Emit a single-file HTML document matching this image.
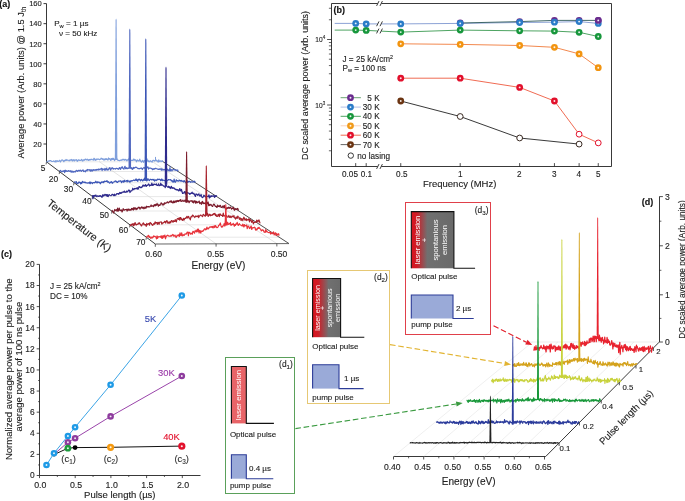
<!DOCTYPE html>
<html><head><meta charset="utf-8"><style>
html,body{margin:0;padding:0;background:#fff;}
svg{display:block;font-family:"Liberation Sans", sans-serif;will-change:transform;}
</style></head><body>
<svg width="685" height="501" viewBox="0 0 685 501">
<rect width="685" height="501" fill="#fff"/>
<g id="pa">
<text x="-0.80" y="6.90" font-size="9.0" text-anchor="start" fill="#111" font-weight="bold" stroke="#111" stroke-width="0.12">(a)</text>
<line x1="46.50" y1="3.60" x2="46.50" y2="162.00" stroke="#222" stroke-width="0.9"/>
<line x1="43.50" y1="144.00" x2="46.50" y2="144.00" stroke="#222" stroke-width="0.9"/>
<text x="41.80" y="146.80" font-size="7.6" text-anchor="end" fill="#222" stroke="#222" stroke-width="0.12">20</text>
<line x1="43.50" y1="123.94" x2="46.50" y2="123.94" stroke="#222" stroke-width="0.9"/>
<text x="41.80" y="126.74" font-size="7.6" text-anchor="end" fill="#222" stroke="#222" stroke-width="0.12">40</text>
<line x1="43.50" y1="103.89" x2="46.50" y2="103.89" stroke="#222" stroke-width="0.9"/>
<text x="41.80" y="106.69" font-size="7.6" text-anchor="end" fill="#222" stroke="#222" stroke-width="0.12">60</text>
<line x1="43.50" y1="83.83" x2="46.50" y2="83.83" stroke="#222" stroke-width="0.9"/>
<text x="41.80" y="86.63" font-size="7.6" text-anchor="end" fill="#222" stroke="#222" stroke-width="0.12">80</text>
<line x1="43.50" y1="63.77" x2="46.50" y2="63.77" stroke="#222" stroke-width="0.9"/>
<text x="41.80" y="66.57" font-size="7.6" text-anchor="end" fill="#222" stroke="#222" stroke-width="0.12">100</text>
<line x1="43.50" y1="43.71" x2="46.50" y2="43.71" stroke="#222" stroke-width="0.9"/>
<text x="41.80" y="46.51" font-size="7.6" text-anchor="end" fill="#222" stroke="#222" stroke-width="0.12">120</text>
<line x1="43.50" y1="23.66" x2="46.50" y2="23.66" stroke="#222" stroke-width="0.9"/>
<text x="41.80" y="26.46" font-size="7.6" text-anchor="end" fill="#222" stroke="#222" stroke-width="0.12">140</text>
<line x1="43.50" y1="3.60" x2="46.50" y2="3.60" stroke="#222" stroke-width="0.9"/>
<text x="41.80" y="6.40" font-size="7.6" text-anchor="end" fill="#222" stroke="#222" stroke-width="0.12">160</text>
<text x="0" y="0" font-size="9.4" text-anchor="middle" fill="#222" transform="translate(23.9 82.5) rotate(-90)" stroke="#222" stroke-width="0.12">Average power (Arb. units) @ 1.5 J<tspan font-size="6.5" dy="2">th</tspan></text>
<text x="54.20" y="26.00" font-size="8.1" text-anchor="start" fill="#222" stroke="#222" stroke-width="0.12">P<tspan font-size="5.8" dy="1.8">w</tspan><tspan dy="-1.8"> = 1 µs</tspan></text>
<text x="58.90" y="36.20" font-size="8.1" text-anchor="start" fill="#222" stroke="#222" stroke-width="0.12">ν = 50 kHz</text>
<line x1="46.50" y1="161.80" x2="163.23" y2="161.80" stroke="#d0d0d0" stroke-width="0.5"/>
<line x1="59.60" y1="171.50" x2="178.14" y2="171.50" stroke="#d0d0d0" stroke-width="0.5"/>
<line x1="74.00" y1="182.70" x2="195.36" y2="182.70" stroke="#d0d0d0" stroke-width="0.5"/>
<line x1="92.50" y1="196.60" x2="216.74" y2="196.60" stroke="#d0d0d0" stroke-width="0.5"/>
<line x1="112.00" y1="211.00" x2="238.88" y2="211.00" stroke="#d0d0d0" stroke-width="0.5"/>
<line x1="130.00" y1="224.80" x2="260.09" y2="224.80" stroke="#d0d0d0" stroke-width="0.5"/>
<line x1="146.40" y1="237.20" x2="279.16" y2="237.20" stroke="#d0d0d0" stroke-width="0.5"/>
<line x1="99.00" y1="161.44" x2="216.07" y2="243.82" stroke="#c8c8c8" stroke-width="0.5"/>
<line x1="151.50" y1="161.07" x2="276.85" y2="243.64" stroke="#c8c8c8" stroke-width="0.5"/>
<line x1="46.50" y1="161.80" x2="155.30" y2="244.00" stroke="#222" stroke-width="0.9"/>
<line x1="162.00" y1="161.00" x2="289.00" y2="243.60" stroke="#222" stroke-width="0.8"/>
<line x1="155.30" y1="244.00" x2="289.00" y2="243.60" stroke="#555" stroke-width="0.9"/>
<line x1="46.50" y1="161.80" x2="46.10" y2="164.40" stroke="#222" stroke-width="0.7"/>
<text x="43.00" y="170.50" font-size="8.4" text-anchor="middle" fill="#222" stroke="#222" stroke-width="0.12">5</text>
<line x1="59.60" y1="171.50" x2="59.20" y2="174.10" stroke="#222" stroke-width="0.7"/>
<text x="53.40" y="181.70" font-size="8.4" text-anchor="middle" fill="#222" stroke="#222" stroke-width="0.12">20</text>
<line x1="74.00" y1="182.70" x2="73.60" y2="185.30" stroke="#222" stroke-width="0.7"/>
<text x="68.40" y="191.70" font-size="8.4" text-anchor="middle" fill="#222" stroke="#222" stroke-width="0.12">30</text>
<line x1="92.50" y1="196.60" x2="92.10" y2="199.20" stroke="#222" stroke-width="0.7"/>
<text x="86.90" y="204.40" font-size="8.4" text-anchor="middle" fill="#222" stroke="#222" stroke-width="0.12">40</text>
<line x1="112.00" y1="211.00" x2="111.60" y2="213.60" stroke="#222" stroke-width="0.7"/>
<text x="104.30" y="218.00" font-size="8.4" text-anchor="middle" fill="#222" stroke="#222" stroke-width="0.12">50</text>
<line x1="130.00" y1="224.80" x2="129.60" y2="227.40" stroke="#222" stroke-width="0.7"/>
<text x="123.50" y="232.90" font-size="8.4" text-anchor="middle" fill="#222" stroke="#222" stroke-width="0.12">60</text>
<line x1="146.40" y1="237.20" x2="146.00" y2="239.80" stroke="#222" stroke-width="0.7"/>
<text x="140.80" y="244.70" font-size="8.4" text-anchor="middle" fill="#222" stroke="#222" stroke-width="0.12">70</text>
<line x1="155.30" y1="244.00" x2="155.30" y2="246.80" stroke="#222" stroke-width="0.7"/>
<text x="153.60" y="257.30" font-size="8.6" text-anchor="middle" fill="#222" stroke="#222" stroke-width="0.12">0.60</text>
<line x1="216.07" y1="243.82" x2="216.07" y2="246.62" stroke="#222" stroke-width="0.7"/>
<text x="215.60" y="257.30" font-size="8.6" text-anchor="middle" fill="#222" stroke="#222" stroke-width="0.12">0.55</text>
<line x1="276.85" y1="243.64" x2="276.85" y2="246.44" stroke="#222" stroke-width="0.7"/>
<text x="279.00" y="257.30" font-size="8.6" text-anchor="middle" fill="#222" stroke="#222" stroke-width="0.12">0.50</text>
<text x="218.50" y="269.20" font-size="10.1" text-anchor="middle" fill="#222" stroke="#222" stroke-width="0.12">Energy (eV)</text>
<text x="0" y="0" font-size="10.8" text-anchor="middle" fill="#222" transform="translate(77.0 228.5) rotate(38)" stroke="#222" stroke-width="0.12">Temperature (K)</text>
<polyline points="46.50,161.89 47.06,161.63 47.62,161.65 48.18,160.95 48.73,161.27 49.29,161.01 49.85,160.52 50.41,160.50 50.97,160.73 51.53,161.31 52.09,161.49 52.64,161.51 53.20,161.18 53.76,160.97 54.32,161.55 54.88,161.63 55.44,160.68 55.99,162.06 56.55,160.95 57.11,160.54 57.67,161.43 58.23,161.49 58.79,161.24 59.35,160.30 59.90,160.79 60.46,161.90 61.02,160.93 61.58,159.98 62.14,159.97 62.70,160.18 63.26,160.72 63.81,161.74 64.37,160.41 64.93,160.61 65.49,160.42 66.05,159.44 66.61,160.30 67.17,160.22 67.72,159.98 68.28,160.52 68.84,160.76 69.40,160.78 69.96,159.78 70.52,159.93 71.07,160.55 71.63,159.46 72.19,160.06 72.75,161.03 73.31,159.74 73.87,160.20 74.43,160.95 74.98,159.73 75.54,160.26 76.10,160.27 76.66,159.61 77.22,161.39 77.78,160.78 78.34,160.20 78.89,159.74 79.45,160.31 80.01,160.50 80.57,160.52 81.13,159.89 81.69,159.35 82.25,160.71 82.80,161.10 83.36,159.92 83.92,159.96 84.48,160.28 85.04,159.27 85.60,159.13 86.15,160.00 86.71,159.84 87.27,159.23 87.83,159.86 88.39,160.47 88.95,159.59 89.51,160.12 90.06,159.30 90.62,159.83 91.18,159.61 91.74,159.13 92.30,159.54 92.86,159.85 93.42,160.08 93.97,158.30 94.53,158.69 95.09,160.37 95.65,160.07 96.21,159.00 96.77,159.75 97.33,159.35 97.88,158.82 98.44,159.26 99.00,159.42 99.56,159.64 100.12,159.38 100.68,159.07 101.23,158.19 101.79,158.62 102.35,159.44 102.91,158.71 103.47,159.23 104.03,160.26 104.59,159.37 105.14,158.65 105.70,159.69 106.26,158.69 106.82,159.50 107.38,159.29 107.94,160.08 108.50,157.97 109.05,159.02 109.61,158.67 110.17,159.62 110.73,160.29 111.29,158.55 111.85,159.81 112.40,158.28 112.96,159.48 113.52,158.32 114.08,159.86 114.64,160.54 115.20,158.95 115.76,159.46 116.31,159.43 116.87,158.76 117.43,160.03 117.99,160.31 118.55,160.24 119.11,160.59 119.67,160.69 120.22,160.36 120.78,160.18 121.34,159.86 121.90,160.37 122.46,159.69 123.02,159.14 123.58,159.80 124.13,159.40 124.69,160.29 125.25,159.54 125.81,159.45 126.37,160.20 126.93,160.80 127.48,159.95 128.04,159.87 128.60,158.97 129.16,160.19 129.72,158.89 130.28,161.53 130.84,160.20 131.39,160.35 131.95,160.31 132.51,160.43 133.07,160.14 133.63,159.08 134.19,160.26 134.75,159.42 135.30,160.27 135.86,160.17 136.42,161.79 136.98,160.23 137.54,159.92 138.10,161.06 138.66,160.75 139.21,160.93 139.77,159.05 140.33,161.06 140.89,160.92 141.45,162.22 142.01,161.52 142.56,160.40 143.12,161.38 143.68,162.35 144.24,160.80 144.80,160.57 145.36,160.49 145.92,160.45 146.47,161.10 147.03,158.93 147.59,161.11 148.15,160.49 148.71,161.61 149.27,161.22 149.83,161.82 150.38,160.73 150.94,161.14 151.50,161.55 152.06,162.22 152.62,160.60 153.18,160.45 153.74,160.46 154.29,161.07 154.85,160.59 155.41,160.46 155.97,160.74 156.53,160.17 157.09,161.21 157.64,160.99 158.20,162.11 158.76,159.81 159.32,161.65 159.88,160.97 160.44,160.79 161.00,161.73 161.55,161.25 162.11,160.80 162.67,161.31 163.23,161.46" stroke="#7f9fdc" stroke-width="1.2" fill="none" stroke-linejoin="round"/>
<polygon points="114.82,159.93 115.57,20.10 116.10,18.60 116.62,20.10 117.38,159.93" fill="#7f9fdc"/>
<line x1="155.50" y1="160.92" x2="155.50" y2="156.92" stroke="#7f9fdc" stroke-width="1.0"/>
<polyline points="59.60,171.31 60.16,170.38 60.72,170.47 61.28,171.67 61.84,171.51 62.40,171.67 62.96,170.89 63.51,171.32 64.07,170.74 64.63,172.55 65.19,170.15 65.75,171.30 66.31,170.75 66.87,171.31 67.43,171.46 67.99,170.86 68.55,170.60 69.11,171.30 69.67,171.25 70.22,170.65 70.78,171.73 71.34,172.16 71.90,170.81 72.46,171.54 73.02,172.40 73.58,171.60 74.14,171.34 74.70,171.83 75.26,172.02 75.82,170.93 76.38,170.31 76.93,171.08 77.49,171.42 78.05,170.61 78.61,170.35 79.17,171.04 79.73,170.43 80.29,170.05 80.85,170.91 81.41,171.30 81.97,170.47 82.53,170.51 83.09,169.89 83.64,171.53 84.20,171.07 84.76,171.16 85.32,171.76 85.88,170.43 86.44,170.12 87.00,170.97 87.56,169.46 88.12,169.82 88.68,169.92 89.24,170.05 89.80,169.63 90.35,171.20 90.91,169.80 91.47,169.77 92.03,171.40 92.59,169.88 93.15,170.26 93.71,169.51 94.27,170.32 94.83,169.99 95.39,169.70 95.95,170.52 96.51,169.45 97.06,169.90 97.62,169.45 98.18,170.12 98.74,168.95 99.30,169.25 99.86,169.76 100.42,169.15 100.98,168.67 101.54,168.26 102.10,170.58 102.66,168.82 103.22,169.07 103.77,169.42 104.33,170.02 104.89,168.39 105.45,170.12 106.01,168.80 106.57,168.24 107.13,170.24 107.69,169.29 108.25,169.95 108.81,168.83 109.37,167.90 109.93,167.51 110.48,170.13 111.04,169.25 111.60,168.32 112.16,167.67 112.72,168.44 113.28,169.22 113.84,168.46 114.40,168.64 114.96,168.74 115.52,169.08 116.08,168.26 116.64,168.28 117.19,168.53 117.75,168.59 118.31,169.31 118.87,168.72 119.43,167.51 119.99,168.46 120.55,169.31 121.11,167.34 121.67,167.88 122.23,166.75 122.79,168.16 123.35,168.51 123.90,169.18 124.46,167.22 125.02,166.33 125.58,168.69 126.14,168.55 126.70,167.66 127.26,168.65 127.82,168.24 128.38,168.29 128.94,167.90 129.50,167.26 130.06,168.00 130.61,167.37 131.17,168.30 131.73,167.77 132.29,169.50 132.85,169.02 133.41,167.44 133.97,168.41 134.53,167.60 135.09,167.63 135.65,167.09 136.21,167.45 136.77,167.31 137.32,168.11 137.88,168.53 138.44,168.57 139.00,168.41 139.56,168.87 140.12,168.48 140.68,168.18 141.24,167.95 141.80,168.38 142.36,169.51 142.92,168.24 143.48,168.05 144.03,167.47 144.59,167.85 145.15,168.73 145.71,168.81 146.27,166.92 146.83,167.83 147.39,167.10 147.95,166.92 148.51,169.02 149.07,168.20 149.63,168.18 150.19,168.14 150.74,168.19 151.30,168.46 151.86,168.51 152.42,169.72 152.98,168.82 153.54,169.26 154.10,168.69 154.66,169.14 155.22,168.42 155.78,168.32 156.34,168.71 156.90,168.74 157.45,168.94 158.01,169.36 158.57,169.20 159.13,169.47 159.69,168.89 160.25,169.19 160.81,168.83 161.37,170.21 161.93,168.70 162.49,169.89 163.05,169.91 163.61,169.58 164.16,169.87 164.72,169.32 165.28,169.96 165.84,170.35 166.40,170.23 166.96,168.76 167.52,169.69 168.08,170.57 168.64,169.79 169.20,170.92 169.76,168.62 170.32,170.98 170.87,169.61 171.43,169.60 171.99,171.04 172.55,169.85 173.11,169.40 173.67,169.80 174.23,169.98 174.79,169.53 175.35,170.12 175.91,170.03 176.47,170.39 177.03,169.89 177.58,171.02 178.14,169.84" stroke="#5068c0" stroke-width="1.2" fill="none" stroke-linejoin="round"/>
<polygon points="128.53,168.50 129.28,29.90 129.80,28.40 130.33,29.90 131.08,168.50" fill="#5068c0"/>
<line x1="170.00" y1="169.89" x2="170.00" y2="165.89" stroke="#5068c0" stroke-width="1.0"/>
<polyline points="74.00,182.69 74.56,181.95 75.12,182.16 75.68,182.17 76.24,181.55 76.80,183.52 77.36,183.12 77.91,183.60 78.47,182.75 79.03,181.97 79.59,182.68 80.15,182.32 80.71,184.00 81.27,182.56 81.83,183.29 82.39,181.41 82.95,182.03 83.51,181.98 84.07,182.69 84.63,182.21 85.19,182.18 85.74,182.88 86.30,182.98 86.86,182.71 87.42,183.04 87.98,183.03 88.54,182.81 89.10,183.11 89.66,182.06 90.22,183.71 90.78,182.01 91.34,183.02 91.90,182.95 92.46,183.51 93.02,182.66 93.57,182.72 94.13,182.41 94.69,182.90 95.25,182.46 95.81,181.24 96.37,182.21 96.93,182.89 97.49,181.81 98.05,182.56 98.61,182.04 99.17,182.01 99.73,182.70 100.29,183.76 100.85,182.64 101.40,182.00 101.96,182.63 102.52,182.04 103.08,181.65 103.64,182.70 104.20,181.44 104.76,181.14 105.32,181.50 105.88,181.42 106.44,181.45 107.00,180.62 107.56,182.05 108.12,182.15 108.68,181.71 109.23,182.74 109.79,183.17 110.35,182.67 110.91,181.77 111.47,181.67 112.03,183.05 112.59,183.26 113.15,182.14 113.71,182.02 114.27,181.89 114.83,181.35 115.39,180.93 115.95,181.60 116.51,181.30 117.06,182.46 117.62,182.48 118.18,181.46 118.74,181.12 119.30,181.04 119.86,181.10 120.42,180.92 120.98,180.87 121.54,182.62 122.10,181.87 122.66,181.00 123.22,180.86 123.78,182.30 124.34,180.38 124.89,181.46 125.45,181.28 126.01,180.88 126.57,180.51 127.13,181.99 127.69,180.26 128.25,180.85 128.81,181.41 129.37,181.02 129.93,182.31 130.49,181.19 131.05,180.57 131.61,181.15 132.17,180.85 132.72,180.68 133.28,180.50 133.84,179.78 134.40,180.47 134.96,180.60 135.52,180.00 136.08,178.89 136.64,180.54 137.20,179.91 137.76,181.33 138.32,179.25 138.88,179.70 139.44,179.19 140.00,180.14 140.55,180.79 141.11,179.41 141.67,179.48 142.23,180.58 142.79,180.98 143.35,179.61 143.91,180.02 144.47,178.05 145.03,180.28 145.59,180.20 146.15,179.89 146.71,180.96 147.27,180.40 147.83,178.61 148.38,179.84 148.94,180.17 149.50,180.62 150.06,179.31 150.62,179.25 151.18,179.53 151.74,179.98 152.30,179.49 152.86,179.43 153.42,180.18 153.98,179.27 154.54,181.19 155.10,180.61 155.66,179.93 156.21,179.80 156.77,180.55 157.33,179.52 157.89,179.02 158.45,179.46 159.01,179.64 159.57,179.23 160.13,179.55 160.69,180.65 161.25,180.01 161.81,178.99 162.37,180.72 162.93,179.90 163.49,180.25 164.04,180.63 164.60,180.74 165.16,179.99 165.72,179.87 166.28,179.91 166.84,181.17 167.40,180.39 167.96,179.98 168.52,179.60 169.08,179.83 169.64,179.75 170.20,179.61 170.76,179.84 171.32,181.02 171.87,180.45 172.43,181.03 172.99,182.24 173.55,181.79 174.11,179.19 174.67,181.48 175.23,182.31 175.79,181.19 176.35,179.76 176.91,180.89 177.47,180.62 178.03,181.13 178.59,181.05 179.15,180.14 179.70,180.51 180.26,181.17 180.82,180.53 181.38,180.44 181.94,181.39 182.50,181.09 183.06,181.14 183.62,181.82 184.18,180.59 184.74,181.55 185.30,181.90 185.86,182.68 186.42,182.43 186.98,180.51 187.53,182.41 188.09,181.35 188.65,181.94 189.21,181.36 189.77,181.33 190.33,182.33 190.89,182.02 191.45,181.78 192.01,181.80 192.57,181.93 193.13,182.16 193.69,181.53 194.25,181.08 194.81,181.65 195.36,182.57" stroke="#3c56b6" stroke-width="1.2" fill="none" stroke-linejoin="round"/>
<polygon points="144.53,180.70 145.28,39.80 145.80,38.30 146.33,39.80 147.08,180.70" fill="#3c56b6"/>
<polyline points="92.50,195.07 93.06,198.74 93.62,195.70 94.18,196.35 94.74,195.40 95.30,196.08 95.86,194.98 96.42,196.31 96.98,196.70 97.54,195.85 98.10,195.94 98.66,196.51 99.22,196.40 99.78,195.65 100.33,195.63 100.89,196.50 101.45,196.37 102.01,197.42 102.57,194.76 103.13,196.15 103.69,194.94 104.25,195.59 104.81,194.40 105.37,194.66 105.93,195.52 106.49,194.59 107.05,196.36 107.61,194.65 108.17,196.64 108.73,195.21 109.29,194.60 109.85,195.16 110.41,195.53 110.97,195.79 111.53,195.36 112.09,194.23 112.65,194.27 113.21,195.04 113.77,195.69 114.33,194.15 114.88,195.64 115.44,194.85 116.00,194.90 116.56,193.68 117.12,193.94 117.68,193.65 118.24,193.67 118.80,194.26 119.36,193.22 119.92,192.43 120.48,193.38 121.04,192.73 121.60,193.16 122.16,192.14 122.72,192.26 123.28,191.95 123.84,192.19 124.40,191.06 124.96,192.39 125.52,192.21 126.08,192.23 126.64,191.15 127.20,191.90 127.76,191.74 128.32,190.53 128.88,190.02 129.44,190.27 129.99,192.53 130.55,191.04 131.11,190.94 131.67,190.85 132.23,190.06 132.79,188.20 133.35,189.60 133.91,189.73 134.47,188.46 135.03,188.74 135.59,188.51 136.15,188.93 136.71,188.22 137.27,187.71 137.83,189.28 138.39,188.88 138.95,186.67 139.51,186.68 140.07,187.52 140.63,187.73 141.19,186.94 141.75,187.53 142.31,186.73 142.87,185.08 143.43,186.07 143.99,185.15 144.54,186.06 145.10,185.48 145.66,184.59 146.22,186.51 146.78,185.66 147.34,185.41 147.90,184.98 148.46,183.93 149.02,184.50 149.58,186.06 150.14,185.07 150.70,185.47 151.26,185.44 151.82,183.19 152.38,185.46 152.94,184.46 153.50,185.15 154.06,183.96 154.62,184.33 155.18,184.51 155.74,184.67 156.30,183.78 156.86,185.37 157.42,185.25 157.98,185.59 158.54,183.80 159.10,185.09 159.65,185.71 160.21,185.33 160.77,183.22 161.33,185.27 161.89,184.65 162.45,185.05 163.01,185.52 163.57,186.15 164.13,186.01 164.69,186.16 165.25,187.69 165.81,184.23 166.37,185.63 166.93,186.39 167.49,186.79 168.05,187.39 168.61,186.25 169.17,187.28 169.73,186.95 170.29,188.53 170.85,187.38 171.41,186.35 171.97,188.25 172.53,187.62 173.09,188.39 173.65,187.77 174.20,187.99 174.76,188.94 175.32,189.60 175.88,189.16 176.44,189.53 177.00,190.22 177.56,189.61 178.12,189.82 178.68,191.00 179.24,190.60 179.80,188.51 180.36,190.28 180.92,191.00 181.48,189.37 182.04,191.78 182.60,193.47 183.16,193.21 183.72,193.10 184.28,191.93 184.84,191.56 185.40,194.08 185.96,191.77 186.52,193.69 187.08,192.72 187.64,192.72 188.20,192.88 188.75,193.34 189.31,193.36 189.87,194.48 190.43,193.54 190.99,193.14 191.55,193.30 192.11,192.16 192.67,193.42 193.23,193.80 193.79,193.20 194.35,194.37 194.91,195.62 195.47,196.43 196.03,193.89 196.59,194.51 197.15,194.38 197.71,195.35 198.27,194.92 198.83,193.85 199.39,195.08 199.95,196.24 200.51,195.79 201.07,194.49 201.63,196.41 202.19,197.59 202.75,197.43 203.31,196.76 203.86,195.21 204.42,195.79 204.98,196.47 205.54,196.91 206.10,196.07 206.66,196.14 207.22,196.48 207.78,196.28 208.34,196.70 208.90,194.81 209.46,197.96 210.02,196.12 210.58,197.00 211.14,195.74 211.70,196.47 212.26,196.04 212.82,195.93 213.38,196.20 213.94,195.62 214.50,197.43 215.06,195.69 215.62,196.58 216.18,196.14 216.74,195.27" stroke="#2e2a8c" stroke-width="1.2" fill="none" stroke-linejoin="round"/>
<polygon points="164.72,184.73 165.47,68.00 166.00,66.50 166.53,68.00 167.28,184.73" fill="#2e2a8c"/>
<polyline points="112.00,210.06 112.56,211.47 113.12,211.95 113.68,213.08 114.24,210.87 114.79,209.49 115.35,210.50 115.91,210.07 116.47,209.61 117.03,211.20 117.59,208.17 118.15,211.14 118.71,210.05 119.27,208.01 119.82,210.40 120.38,210.18 120.94,210.68 121.50,209.92 122.06,211.98 122.62,210.68 123.18,208.65 123.74,209.87 124.30,210.21 124.86,209.65 125.41,209.57 125.97,209.75 126.53,209.34 127.09,211.19 127.65,209.22 128.21,210.25 128.77,208.95 129.33,209.58 129.89,210.36 130.44,209.51 131.00,210.24 131.56,208.46 132.12,209.28 132.68,208.47 133.24,210.07 133.80,207.68 134.36,209.24 134.92,207.75 135.47,208.11 136.03,209.70 136.59,208.41 137.15,209.06 137.71,208.17 138.27,207.22 138.83,207.76 139.39,207.35 139.95,209.17 140.51,207.91 141.06,207.69 141.62,206.97 142.18,208.33 142.74,207.22 143.30,207.24 143.86,208.80 144.42,208.28 144.98,206.92 145.54,208.19 146.09,208.13 146.65,206.22 147.21,206.62 147.77,206.96 148.33,206.56 148.89,206.88 149.45,206.87 150.01,206.69 150.57,205.86 151.12,204.95 151.68,206.35 152.24,205.89 152.80,205.90 153.36,206.67 153.92,205.26 154.48,204.62 155.04,205.95 155.60,204.40 156.16,205.48 156.71,203.89 157.27,203.71 157.83,204.95 158.39,206.21 158.95,204.68 159.51,205.45 160.07,205.26 160.63,204.24 161.19,202.75 161.74,203.87 162.30,203.86 162.86,205.13 163.42,203.96 163.98,204.52 164.54,202.78 165.10,203.56 165.66,203.04 166.22,202.91 166.77,202.95 167.33,201.88 167.89,202.18 168.45,202.76 169.01,202.27 169.57,201.83 170.13,201.05 170.69,202.01 171.25,200.81 171.81,202.46 172.36,202.08 172.92,203.06 173.48,201.03 174.04,202.53 174.60,202.47 175.16,200.81 175.72,201.92 176.28,202.05 176.84,200.54 177.39,201.46 177.95,200.47 178.51,201.56 179.07,200.56 179.63,200.22 180.19,201.04 180.75,199.55 181.31,201.39 181.87,201.22 182.42,200.96 182.98,200.16 183.54,201.25 184.10,201.37 184.66,200.79 185.22,199.94 185.78,201.37 186.34,202.11 186.90,201.15 187.46,200.53 188.01,201.55 188.57,201.01 189.13,202.74 189.69,201.17 190.25,201.14 190.81,200.74 191.37,201.05 191.93,200.71 192.49,202.26 193.04,200.92 193.60,202.94 194.16,202.11 194.72,200.73 195.28,201.02 195.84,203.39 196.40,201.39 196.96,202.34 197.52,202.72 198.07,201.97 198.63,202.12 199.19,201.14 199.75,203.64 200.31,202.88 200.87,202.73 201.43,204.28 201.99,201.82 202.55,201.43 203.11,203.56 203.66,202.81 204.22,203.47 204.78,203.13 205.34,204.04 205.90,202.88 206.46,204.69 207.02,202.66 207.58,203.63 208.14,201.99 208.69,205.57 209.25,204.37 209.81,205.50 210.37,204.65 210.93,204.28 211.49,205.55 212.05,206.11 212.61,206.49 213.17,204.95 213.72,204.17 214.28,204.38 214.84,205.47 215.40,206.44 215.96,206.05 216.52,207.14 217.08,207.32 217.64,205.19 218.20,206.45 218.76,206.06 219.31,206.68 219.87,205.43 220.43,205.45 220.99,207.44 221.55,207.20 222.11,207.57 222.67,205.99 223.23,206.16 223.79,207.57 224.34,205.47 224.90,207.50 225.46,208.66 226.02,209.45 226.58,207.94 227.14,207.64 227.70,208.51 228.26,207.79 228.82,207.18 229.37,208.33 229.93,207.65 230.49,207.04 231.05,208.11 231.61,209.11 232.17,208.33 232.73,208.32 233.29,207.04 233.85,209.30 234.41,210.32 234.96,208.82 235.52,208.86 236.08,209.56 236.64,208.79 237.20,209.07 237.76,208.37 238.32,210.17 238.88,210.12" stroke="#7c1c2c" stroke-width="1.2" fill="none" stroke-linejoin="round"/>
<polygon points="185.32,202.61 186.07,152.60 186.60,151.10 187.12,152.60 187.88,202.61" fill="#7c1c2c"/>
<polyline points="130.00,226.01 130.56,225.54 131.12,224.26 131.68,225.13 132.23,224.12 132.79,223.84 133.35,225.97 133.91,223.62 134.47,225.14 135.03,222.57 135.58,223.86 136.14,225.05 136.70,224.33 137.26,224.30 137.82,224.18 138.38,223.15 138.93,223.95 139.49,222.86 140.05,223.82 140.61,224.57 141.17,225.83 141.73,225.84 142.28,224.14 142.84,223.66 143.40,222.92 143.96,224.85 144.52,224.17 145.08,224.99 145.63,224.59 146.19,226.32 146.75,223.43 147.31,224.78 147.87,224.13 148.43,223.61 148.98,223.67 149.54,225.21 150.10,222.48 150.66,223.17 151.22,223.37 151.78,224.43 152.33,225.29 152.89,225.27 153.45,223.87 154.01,223.47 154.57,224.25 155.13,221.79 155.68,223.19 156.24,222.48 156.80,222.51 157.36,224.33 157.92,222.31 158.48,222.77 159.03,224.34 159.59,222.39 160.15,221.99 160.71,222.02 161.27,221.88 161.83,224.15 162.38,222.98 162.94,223.19 163.50,222.54 164.06,222.42 164.62,221.37 165.18,221.65 165.73,223.07 166.29,221.34 166.85,220.57 167.41,221.74 167.97,223.37 168.53,222.46 169.08,221.93 169.64,223.21 170.20,221.71 170.76,222.69 171.32,220.63 171.88,220.63 172.43,221.26 172.99,222.28 173.55,220.71 174.11,221.48 174.67,221.42 175.23,219.61 175.78,221.28 176.34,221.76 176.90,219.59 177.46,218.54 178.02,218.59 178.58,219.26 179.13,217.90 179.69,220.11 180.25,217.59 180.81,217.55 181.37,219.75 181.93,218.92 182.48,220.41 183.04,220.05 183.60,218.42 184.16,219.94 184.72,218.51 185.28,218.16 185.83,218.35 186.39,217.43 186.95,216.39 187.51,217.94 188.07,217.04 188.63,216.46 189.18,218.20 189.74,218.28 190.30,219.84 190.86,217.01 191.42,216.30 191.98,216.78 192.53,215.09 193.09,215.52 193.65,216.09 194.21,216.80 194.77,217.49 195.33,216.45 195.88,215.98 196.44,216.42 197.00,216.55 197.56,216.53 198.12,215.41 198.68,217.61 199.23,216.21 199.79,215.75 200.35,215.08 200.91,214.99 201.47,215.80 202.03,216.07 202.58,216.56 203.14,214.27 203.70,214.76 204.26,215.06 204.82,215.89 205.38,216.21 205.93,213.98 206.49,215.06 207.05,214.55 207.61,213.25 208.17,216.38 208.73,215.63 209.29,214.52 209.84,214.25 210.40,215.81 210.96,214.88 211.52,215.36 212.08,215.33 212.64,214.41 213.19,214.58 213.75,213.65 214.31,214.20 214.87,213.36 215.43,215.58 215.99,214.43 216.54,216.20 217.10,216.45 217.66,216.23 218.22,214.26 218.78,214.78 219.34,216.57 219.89,213.81 220.45,214.18 221.01,215.33 221.57,215.44 222.13,215.28 222.69,216.49 223.24,213.16 223.80,215.90 224.36,215.71 224.92,215.91 225.48,216.31 226.04,216.62 226.59,215.51 227.15,217.09 227.71,217.00 228.27,216.86 228.83,215.41 229.39,217.22 229.94,217.32 230.50,216.16 231.06,217.65 231.62,216.98 232.18,215.92 232.74,216.48 233.29,216.95 233.85,215.64 234.41,217.60 234.97,217.89 235.53,219.09 236.09,217.50 236.64,217.05 237.20,218.40 237.76,216.09 238.32,217.03 238.88,217.23 239.44,219.38 239.99,218.07 240.55,218.12 241.11,220.53 241.67,218.73 242.23,219.05 242.79,220.59 243.34,218.59 243.90,217.22 244.46,218.58 245.02,220.22 245.58,219.77 246.14,218.57 246.69,220.55 247.25,219.53 247.81,219.95 248.37,219.93 248.93,218.63 249.49,221.77 250.04,219.31 250.60,220.28 251.16,220.73 251.72,222.34 252.28,220.56 252.84,221.35 253.39,223.87 253.95,222.48 254.51,222.41 255.07,222.33 255.63,222.05 256.19,222.36 256.74,220.17 257.30,220.73 257.86,221.92 258.42,220.60 258.98,219.98 259.54,221.63 260.09,223.44" stroke="#a8222c" stroke-width="1.2" fill="none" stroke-linejoin="round"/>
<polygon points="205.03,215.56 205.78,166.60 206.30,165.10 206.83,166.60 207.58,215.56" fill="#a8222c"/>
<polyline points="146.40,237.72 146.96,236.49 147.52,236.07 148.08,236.07 148.64,235.28 149.20,237.48 149.76,236.54 150.32,237.44 150.88,238.49 151.44,237.76 152.00,236.91 152.56,237.96 153.12,237.22 153.68,235.90 154.24,236.44 154.80,236.42 155.36,236.64 155.92,237.15 156.48,238.82 157.04,235.95 157.60,238.43 158.16,236.69 158.72,237.00 159.28,236.74 159.84,236.60 160.40,237.17 160.96,235.91 161.52,238.08 162.08,235.98 162.64,238.44 163.21,235.53 163.77,237.20 164.33,236.29 164.89,235.13 165.45,238.77 166.01,236.89 166.57,235.96 167.13,235.60 167.69,235.11 168.25,235.82 168.81,235.88 169.37,236.24 169.93,236.04 170.49,236.19 171.05,235.22 171.61,236.01 172.17,235.45 172.73,234.45 173.29,234.84 173.85,236.30 174.41,236.00 174.97,235.10 175.53,236.42 176.09,237.54 176.65,236.66 177.21,235.04 177.77,235.72 178.33,235.79 178.89,234.61 179.45,236.33 180.01,232.93 180.57,235.09 181.13,235.35 181.69,232.90 182.25,235.94 182.81,235.26 183.37,234.75 183.93,235.52 184.49,234.80 185.05,233.78 185.61,234.09 186.17,234.19 186.73,233.05 187.29,232.04 187.85,232.24 188.41,235.78 188.97,232.19 189.53,232.67 190.09,232.91 190.65,234.17 191.21,233.51 191.77,233.13 192.33,234.18 192.89,231.42 193.45,231.62 194.01,232.38 194.57,233.17 195.13,230.73 195.69,231.29 196.25,230.71 196.82,232.04 197.38,229.08 197.94,231.45 198.50,229.20 199.06,233.00 199.62,230.53 200.18,230.60 200.74,233.04 201.30,231.00 201.86,231.42 202.42,231.43 202.98,230.61 203.54,230.86 204.10,229.20 204.66,228.90 205.22,228.93 205.78,229.86 206.34,229.35 206.90,227.02 207.46,228.88 208.02,228.39 208.58,228.79 209.14,227.52 209.70,227.00 210.26,226.93 210.82,227.14 211.38,226.70 211.94,227.47 212.50,226.48 213.06,227.94 213.62,226.70 214.18,225.79 214.74,227.53 215.30,225.60 215.86,225.92 216.42,227.33 216.98,227.68 217.54,227.50 218.10,226.77 218.66,225.29 219.22,225.24 219.78,224.15 220.34,223.00 220.90,225.65 221.46,227.11 222.02,226.47 222.58,226.92 223.14,225.50 223.70,225.27 224.26,223.38 224.82,226.10 225.38,224.78 225.94,224.72 226.50,224.55 227.06,224.94 227.62,222.22 228.18,224.48 228.74,224.23 229.30,223.54 229.87,224.00 230.43,222.44 230.99,225.41 231.55,224.40 232.11,224.72 232.67,224.30 233.23,223.34 233.79,224.86 234.35,226.25 234.91,224.25 235.47,225.41 236.03,223.79 236.59,224.23 237.15,222.41 237.71,224.03 238.27,225.46 238.83,224.34 239.39,223.72 239.95,224.78 240.51,224.98 241.07,225.31 241.63,225.55 242.19,226.16 242.75,224.13 243.31,225.05 243.87,227.00 244.43,224.61 244.99,225.78 245.55,225.70 246.11,225.90 246.67,225.00 247.23,228.55 247.79,226.48 248.35,226.05 248.91,226.88 249.47,228.54 250.03,228.31 250.59,226.98 251.15,225.92 251.71,229.44 252.27,228.25 252.83,227.50 253.39,227.73 253.95,227.59 254.51,227.13 255.07,227.68 255.63,230.08 256.19,229.08 256.75,230.04 257.31,229.12 257.87,227.76 258.43,228.41 258.99,227.28 259.55,228.38 260.11,228.83 260.67,229.06 261.23,230.92 261.79,230.54 262.35,229.97 262.91,229.97 263.48,230.28 264.04,231.98 264.60,232.26 265.16,232.49 265.72,229.66 266.28,231.78 266.84,230.98 267.40,232.02 267.96,232.28 268.52,232.49 269.08,232.79 269.64,232.47 270.20,231.88 270.76,234.10 271.32,232.91 271.88,233.38 272.44,233.65 273.00,232.69 273.56,231.88 274.12,234.94 274.68,233.56 275.24,232.76 275.80,233.10 276.36,235.68 276.92,233.67 277.48,234.68 278.04,234.82 278.60,233.73 279.16,235.61" stroke="#e8323a" stroke-width="1.2" fill="none" stroke-linejoin="round"/>
<polygon points="224.53,225.22 225.28,205.10 225.80,203.60 226.33,205.10 227.08,225.22" fill="#e8323a"/>
</g>
<g id="pb">
<line x1="331.50" y1="3.50" x2="331.50" y2="166.50" stroke="#222" stroke-width="0.9"/>
<line x1="331.50" y1="166.50" x2="611.50" y2="166.50" stroke="#222" stroke-width="0.9"/>
<line x1="611.50" y1="3.50" x2="611.50" y2="166.50" stroke="#222" stroke-width="0.9"/>
<line x1="331.50" y1="3.50" x2="611.50" y2="3.50" stroke="#222" stroke-width="0.9"/>
<text x="333.40" y="12.80" font-size="9.0" text-anchor="start" fill="#111" font-weight="bold" stroke="#111" stroke-width="0.12">(b)</text>
<line x1="328.90" y1="150.78" x2="331.50" y2="150.78" stroke="#222" stroke-width="0.7"/>
<line x1="328.90" y1="139.25" x2="331.50" y2="139.25" stroke="#222" stroke-width="0.7"/>
<line x1="328.90" y1="131.07" x2="331.50" y2="131.07" stroke="#222" stroke-width="0.7"/>
<line x1="328.90" y1="124.72" x2="331.50" y2="124.72" stroke="#222" stroke-width="0.7"/>
<line x1="328.90" y1="119.53" x2="331.50" y2="119.53" stroke="#222" stroke-width="0.7"/>
<line x1="328.90" y1="115.15" x2="331.50" y2="115.15" stroke="#222" stroke-width="0.7"/>
<line x1="328.90" y1="111.35" x2="331.50" y2="111.35" stroke="#222" stroke-width="0.7"/>
<line x1="328.90" y1="108.00" x2="331.50" y2="108.00" stroke="#222" stroke-width="0.7"/>
<line x1="327.10" y1="105.00" x2="331.50" y2="105.00" stroke="#222" stroke-width="0.8"/>
<line x1="328.90" y1="85.28" x2="331.50" y2="85.28" stroke="#222" stroke-width="0.7"/>
<line x1="328.90" y1="73.75" x2="331.50" y2="73.75" stroke="#222" stroke-width="0.7"/>
<line x1="328.90" y1="65.57" x2="331.50" y2="65.57" stroke="#222" stroke-width="0.7"/>
<line x1="328.90" y1="59.22" x2="331.50" y2="59.22" stroke="#222" stroke-width="0.7"/>
<line x1="328.90" y1="54.03" x2="331.50" y2="54.03" stroke="#222" stroke-width="0.7"/>
<line x1="328.90" y1="49.65" x2="331.50" y2="49.65" stroke="#222" stroke-width="0.7"/>
<line x1="328.90" y1="45.85" x2="331.50" y2="45.85" stroke="#222" stroke-width="0.7"/>
<line x1="328.90" y1="42.50" x2="331.50" y2="42.50" stroke="#222" stroke-width="0.7"/>
<line x1="327.10" y1="39.50" x2="331.50" y2="39.50" stroke="#222" stroke-width="0.8"/>
<line x1="328.90" y1="19.78" x2="331.50" y2="19.78" stroke="#222" stroke-width="0.7"/>
<line x1="328.90" y1="8.25" x2="331.50" y2="8.25" stroke="#222" stroke-width="0.7"/>
<text x="325.20" y="42.00" font-size="6.6" text-anchor="end" fill="#222" stroke="#222" stroke-width="0.12">10<tspan font-size="4.5" dy="-2.6">4</tspan></text>
<text x="325.20" y="107.50" font-size="6.6" text-anchor="end" fill="#222" stroke="#222" stroke-width="0.12">10<tspan font-size="4.5" dy="-2.6">3</tspan></text>
<text x="0" y="0" font-size="8.95" text-anchor="middle" fill="#222" transform="translate(308.0 85.5) rotate(-90)" stroke="#222" stroke-width="0.12">DC scaled average power (Arb. units)</text>
<line x1="355.70" y1="166.50" x2="355.70" y2="163.10" stroke="#222" stroke-width="0.8"/>
<text x="350.00" y="177.20" font-size="8.2" text-anchor="middle" fill="#222" stroke="#222" stroke-width="0.12">0.05</text>
<line x1="366.20" y1="166.50" x2="366.20" y2="163.10" stroke="#222" stroke-width="0.8"/>
<text x="366.40" y="177.20" font-size="8.2" text-anchor="middle" fill="#222" stroke="#222" stroke-width="0.12">0.1</text>
<line x1="400.75" y1="166.50" x2="400.75" y2="163.10" stroke="#222" stroke-width="0.8"/>
<text x="401.80" y="177.20" font-size="8.2" text-anchor="middle" fill="#222" stroke="#222" stroke-width="0.12">0.5</text>
<line x1="460.20" y1="166.50" x2="460.20" y2="163.10" stroke="#222" stroke-width="0.8"/>
<text x="460.20" y="177.20" font-size="8.2" text-anchor="middle" fill="#222" stroke="#222" stroke-width="0.12">1</text>
<line x1="519.65" y1="166.50" x2="519.65" y2="163.10" stroke="#222" stroke-width="0.8"/>
<text x="519.20" y="177.20" font-size="8.2" text-anchor="middle" fill="#222" stroke="#222" stroke-width="0.12">2</text>
<line x1="554.43" y1="166.50" x2="554.43" y2="163.10" stroke="#222" stroke-width="0.8"/>
<text x="554.40" y="177.20" font-size="8.2" text-anchor="middle" fill="#222" stroke="#222" stroke-width="0.12">3</text>
<line x1="579.11" y1="166.50" x2="579.11" y2="163.10" stroke="#222" stroke-width="0.8"/>
<text x="578.90" y="177.20" font-size="8.2" text-anchor="middle" fill="#222" stroke="#222" stroke-width="0.12">4</text>
<line x1="598.25" y1="166.50" x2="598.25" y2="163.10" stroke="#222" stroke-width="0.8"/>
<text x="598.40" y="177.20" font-size="8.2" text-anchor="middle" fill="#222" stroke="#222" stroke-width="0.12">5</text>
<text x="459.70" y="187.20" font-size="9.5" text-anchor="middle" fill="#222" stroke="#222" stroke-width="0.12">Frequency (MHz)</text>
<polyline points="400.75,101.00 460.20,116.50 519.65,138.00 579.11,144.10" stroke="#222" stroke-width="0.9" fill="none"/>
<polyline points="400.75,78.20 460.20,78.20 519.65,87.40 554.43,101.00 579.11,134.20 598.25,142.90" stroke="#ee5a40" stroke-width="0.9" fill="none"/>
<polyline points="400.75,43.80 460.20,44.40 519.65,45.50 554.43,47.30 579.11,53.90 598.25,67.70" stroke="#f07a3a" stroke-width="0.9" fill="none"/>
<polyline points="334.70,30.10 355.70,30.10 366.20,30.40 400.75,32.10 460.20,30.10 519.65,30.80 554.43,31.10 579.11,32.30 598.25,36.50" stroke="#3a9a50" stroke-width="0.9" fill="none"/>
<polyline points="334.70,23.40 355.70,23.40 366.20,23.90 400.75,23.90 460.20,23.40 519.65,22.50 554.43,22.20 579.11,21.60 598.25,23.40" stroke="#7f97d0" stroke-width="0.9" fill="none"/>
<polyline points="460.20,23.00 519.65,21.60 554.43,20.40 579.11,20.40 598.25,20.40" stroke="#2f5a5a" stroke-width="0.9" fill="none"/>
<rect x="377.60" y="1.00" width="3.8" height="5" fill="#fff"/>
<line x1="376.60" y1="5.90" x2="379.00" y2="1.10" stroke="#222" stroke-width="0.9"/>
<line x1="380.00" y1="5.90" x2="382.40" y2="1.10" stroke="#222" stroke-width="0.9"/>
<rect x="377.60" y="164.00" width="3.8" height="5" fill="#fff"/>
<line x1="376.60" y1="168.90" x2="379.00" y2="164.10" stroke="#222" stroke-width="0.9"/>
<line x1="380.00" y1="168.90" x2="382.40" y2="164.10" stroke="#222" stroke-width="0.9"/>
<rect x="377.60" y="21.30" width="3.8" height="5" fill="#fff"/>
<line x1="376.60" y1="26.20" x2="379.00" y2="21.40" stroke="#222" stroke-width="0.9"/>
<line x1="380.00" y1="26.20" x2="382.40" y2="21.40" stroke="#222" stroke-width="0.9"/>
<rect x="377.60" y="28.50" width="3.8" height="5" fill="#fff"/>
<line x1="376.60" y1="33.40" x2="379.00" y2="28.60" stroke="#222" stroke-width="0.9"/>
<line x1="380.00" y1="33.40" x2="382.40" y2="28.60" stroke="#222" stroke-width="0.9"/>
<circle cx="400.75" cy="101.00" r="3.4" fill="#6b3412" stroke="none" stroke-width="1"/>
<circle cx="400.75" cy="101.00" r="0.95" fill="#fff" stroke="none" stroke-width="1" fill-opacity="0.9"/>
<circle cx="460.20" cy="116.50" r="2.9" fill="#fff" stroke="#3a2a22" stroke-width="1.0"/>
<circle cx="519.65" cy="138.00" r="2.9" fill="#fff" stroke="#3a2a22" stroke-width="1.0"/>
<circle cx="579.11" cy="144.10" r="2.9" fill="#fff" stroke="#3a2a22" stroke-width="1.0"/>
<circle cx="400.75" cy="78.20" r="3.4" fill="#e2102c" stroke="none" stroke-width="1"/>
<circle cx="400.75" cy="78.20" r="0.95" fill="#fff" stroke="none" stroke-width="1" fill-opacity="0.9"/>
<circle cx="460.20" cy="78.20" r="3.4" fill="#e2102c" stroke="none" stroke-width="1"/>
<circle cx="460.20" cy="78.20" r="0.95" fill="#fff" stroke="none" stroke-width="1" fill-opacity="0.9"/>
<circle cx="519.65" cy="87.40" r="3.4" fill="#e2102c" stroke="none" stroke-width="1"/>
<circle cx="519.65" cy="87.40" r="0.95" fill="#fff" stroke="none" stroke-width="1" fill-opacity="0.9"/>
<circle cx="554.43" cy="101.00" r="3.4" fill="#e2102c" stroke="none" stroke-width="1"/>
<circle cx="554.43" cy="101.00" r="0.95" fill="#fff" stroke="none" stroke-width="1" fill-opacity="0.9"/>
<circle cx="579.11" cy="134.20" r="2.9" fill="#fff" stroke="#e2102c" stroke-width="1.0"/>
<circle cx="598.25" cy="142.90" r="2.9" fill="#fff" stroke="#e2102c" stroke-width="1.0"/>
<circle cx="400.75" cy="43.80" r="3.4" fill="#f29410" stroke="none" stroke-width="1"/>
<circle cx="400.75" cy="43.80" r="0.95" fill="#fff" stroke="none" stroke-width="1" fill-opacity="0.9"/>
<circle cx="460.20" cy="44.40" r="3.4" fill="#f29410" stroke="none" stroke-width="1"/>
<circle cx="460.20" cy="44.40" r="0.95" fill="#fff" stroke="none" stroke-width="1" fill-opacity="0.9"/>
<circle cx="519.65" cy="45.50" r="3.4" fill="#f29410" stroke="none" stroke-width="1"/>
<circle cx="519.65" cy="45.50" r="0.95" fill="#fff" stroke="none" stroke-width="1" fill-opacity="0.9"/>
<circle cx="554.43" cy="47.30" r="3.4" fill="#f29410" stroke="none" stroke-width="1"/>
<circle cx="554.43" cy="47.30" r="0.95" fill="#fff" stroke="none" stroke-width="1" fill-opacity="0.9"/>
<circle cx="579.11" cy="53.90" r="3.4" fill="#f29410" stroke="none" stroke-width="1"/>
<circle cx="579.11" cy="53.90" r="0.95" fill="#fff" stroke="none" stroke-width="1" fill-opacity="0.9"/>
<circle cx="598.25" cy="67.70" r="3.4" fill="#f29410" stroke="none" stroke-width="1"/>
<circle cx="598.25" cy="67.70" r="0.95" fill="#fff" stroke="none" stroke-width="1" fill-opacity="0.9"/>
<circle cx="355.70" cy="30.10" r="3.4" fill="#17973c" stroke="none" stroke-width="1"/>
<circle cx="355.70" cy="30.10" r="0.95" fill="#fff" stroke="none" stroke-width="1" fill-opacity="0.9"/>
<circle cx="366.20" cy="30.40" r="3.4" fill="#17973c" stroke="none" stroke-width="1"/>
<circle cx="366.20" cy="30.40" r="0.95" fill="#fff" stroke="none" stroke-width="1" fill-opacity="0.9"/>
<circle cx="400.75" cy="32.10" r="3.4" fill="#17973c" stroke="none" stroke-width="1"/>
<circle cx="400.75" cy="32.10" r="0.95" fill="#fff" stroke="none" stroke-width="1" fill-opacity="0.9"/>
<circle cx="460.20" cy="30.10" r="3.4" fill="#17973c" stroke="none" stroke-width="1"/>
<circle cx="460.20" cy="30.10" r="0.95" fill="#fff" stroke="none" stroke-width="1" fill-opacity="0.9"/>
<circle cx="519.65" cy="30.80" r="3.4" fill="#17973c" stroke="none" stroke-width="1"/>
<circle cx="519.65" cy="30.80" r="0.95" fill="#fff" stroke="none" stroke-width="1" fill-opacity="0.9"/>
<circle cx="554.43" cy="31.10" r="3.4" fill="#17973c" stroke="none" stroke-width="1"/>
<circle cx="554.43" cy="31.10" r="0.95" fill="#fff" stroke="none" stroke-width="1" fill-opacity="0.9"/>
<circle cx="579.11" cy="32.30" r="3.4" fill="#17973c" stroke="none" stroke-width="1"/>
<circle cx="579.11" cy="32.30" r="0.95" fill="#fff" stroke="none" stroke-width="1" fill-opacity="0.9"/>
<circle cx="598.25" cy="36.50" r="3.4" fill="#17973c" stroke="none" stroke-width="1"/>
<circle cx="598.25" cy="36.50" r="0.95" fill="#fff" stroke="none" stroke-width="1" fill-opacity="0.9"/>
<circle cx="460.20" cy="23.00" r="3.4" fill="#6a2c8e" stroke="none" stroke-width="1"/>
<circle cx="460.20" cy="23.00" r="0.95" fill="#fff" stroke="none" stroke-width="1" fill-opacity="0.9"/>
<circle cx="519.65" cy="21.60" r="3.4" fill="#6a2c8e" stroke="none" stroke-width="1"/>
<circle cx="519.65" cy="21.60" r="0.95" fill="#fff" stroke="none" stroke-width="1" fill-opacity="0.9"/>
<circle cx="554.43" cy="20.40" r="3.4" fill="#6a2c8e" stroke="none" stroke-width="1"/>
<circle cx="554.43" cy="20.40" r="0.95" fill="#fff" stroke="none" stroke-width="1" fill-opacity="0.9"/>
<circle cx="579.11" cy="20.40" r="3.4" fill="#6a2c8e" stroke="none" stroke-width="1"/>
<circle cx="579.11" cy="20.40" r="0.95" fill="#fff" stroke="none" stroke-width="1" fill-opacity="0.9"/>
<circle cx="598.25" cy="20.40" r="3.4" fill="#6a2c8e" stroke="none" stroke-width="1"/>
<circle cx="598.25" cy="20.40" r="0.95" fill="#fff" stroke="none" stroke-width="1" fill-opacity="0.9"/>
<circle cx="355.70" cy="23.40" r="3.4" fill="#2a7cc8" stroke="none" stroke-width="1"/>
<circle cx="355.70" cy="23.40" r="0.95" fill="#fff" stroke="none" stroke-width="1" fill-opacity="0.9"/>
<circle cx="366.20" cy="23.90" r="3.4" fill="#2a7cc8" stroke="none" stroke-width="1"/>
<circle cx="366.20" cy="23.90" r="0.95" fill="#fff" stroke="none" stroke-width="1" fill-opacity="0.9"/>
<circle cx="400.75" cy="23.90" r="3.4" fill="#2a7cc8" stroke="none" stroke-width="1"/>
<circle cx="400.75" cy="23.90" r="0.95" fill="#fff" stroke="none" stroke-width="1" fill-opacity="0.9"/>
<circle cx="460.20" cy="23.40" r="3.4" fill="#2a7cc8" stroke="none" stroke-width="1"/>
<circle cx="460.20" cy="23.40" r="0.95" fill="#fff" stroke="none" stroke-width="1" fill-opacity="0.9"/>
<circle cx="519.65" cy="22.50" r="3.4" fill="#2a7cc8" stroke="none" stroke-width="1"/>
<circle cx="519.65" cy="22.50" r="0.95" fill="#fff" stroke="none" stroke-width="1" fill-opacity="0.9"/>
<circle cx="554.43" cy="22.20" r="3.4" fill="#2a7cc8" stroke="none" stroke-width="1"/>
<circle cx="554.43" cy="22.20" r="0.95" fill="#fff" stroke="none" stroke-width="1" fill-opacity="0.9"/>
<circle cx="579.11" cy="21.60" r="3.4" fill="#2a7cc8" stroke="none" stroke-width="1"/>
<circle cx="579.11" cy="21.60" r="0.95" fill="#fff" stroke="none" stroke-width="1" fill-opacity="0.9"/>
<circle cx="598.25" cy="23.40" r="3.4" fill="#2a7cc8" stroke="none" stroke-width="1"/>
<circle cx="598.25" cy="23.40" r="0.95" fill="#fff" stroke="none" stroke-width="1" fill-opacity="0.9"/>
<circle cx="598.25" cy="20.40" r="3.4" fill="#6a2c8e" stroke="none" stroke-width="1"/>
<circle cx="598.25" cy="20.40" r="0.95" fill="#fff" stroke="none" stroke-width="1" fill-opacity="0.9"/>
<text x="342.50" y="61.90" font-size="8.2" text-anchor="start" fill="#222" stroke="#222" stroke-width="0.12">J = 25 kA/cm<tspan font-size="5.4" dy="-3">2</tspan></text>
<text x="342.50" y="70.80" font-size="8.2" text-anchor="start" fill="#222" stroke="#222" stroke-width="0.12">P<tspan font-size="5.6" dy="1.6">w</tspan><tspan dy="-1.6"> = 100 ns</tspan></text>
<line x1="340.60" y1="97.70" x2="360.90" y2="97.70" stroke="#5a9a62" stroke-width="0.9"/>
<circle cx="350.50" cy="97.70" r="3.4" fill="#6a2c8e" stroke="none" stroke-width="1"/>
<circle cx="350.50" cy="97.70" r="0.95" fill="#fff" stroke="none" stroke-width="1" fill-opacity="0.9"/>
<text x="379.60" y="100.60" font-size="8.2" text-anchor="end" fill="#222" stroke="#222" stroke-width="0.12">5 K</text>
<line x1="340.60" y1="107.10" x2="360.90" y2="107.10" stroke="#a8b8e2" stroke-width="0.9"/>
<circle cx="350.50" cy="107.10" r="3.4" fill="#2a7cc8" stroke="none" stroke-width="1"/>
<circle cx="350.50" cy="107.10" r="0.95" fill="#fff" stroke="none" stroke-width="1" fill-opacity="0.9"/>
<text x="379.60" y="110.00" font-size="8.2" text-anchor="end" fill="#222" stroke="#222" stroke-width="0.12">30 K</text>
<line x1="340.60" y1="116.30" x2="360.90" y2="116.30" stroke="#3a9a50" stroke-width="0.9"/>
<circle cx="350.50" cy="116.30" r="3.4" fill="#17973c" stroke="none" stroke-width="1"/>
<circle cx="350.50" cy="116.30" r="0.95" fill="#fff" stroke="none" stroke-width="1" fill-opacity="0.9"/>
<text x="379.60" y="119.20" font-size="8.2" text-anchor="end" fill="#222" stroke="#222" stroke-width="0.12">40 K</text>
<line x1="340.60" y1="125.80" x2="360.90" y2="125.80" stroke="#f8cdb4" stroke-width="0.9"/>
<circle cx="350.50" cy="125.80" r="3.4" fill="#f09a1a" stroke="none" stroke-width="1"/>
<circle cx="350.50" cy="125.80" r="0.95" fill="#fff" stroke="none" stroke-width="1" fill-opacity="0.9"/>
<text x="379.60" y="128.70" font-size="8.2" text-anchor="end" fill="#222" stroke="#222" stroke-width="0.12">50 K</text>
<line x1="340.60" y1="135.20" x2="360.90" y2="135.20" stroke="#ee5a40" stroke-width="0.9"/>
<circle cx="350.50" cy="135.20" r="3.4" fill="#e2102c" stroke="none" stroke-width="1"/>
<circle cx="350.50" cy="135.20" r="0.95" fill="#fff" stroke="none" stroke-width="1" fill-opacity="0.9"/>
<text x="379.60" y="138.10" font-size="8.2" text-anchor="end" fill="#222" stroke="#222" stroke-width="0.12">60 K</text>
<line x1="340.60" y1="144.60" x2="360.90" y2="144.60" stroke="#555" stroke-width="0.9"/>
<circle cx="350.50" cy="144.60" r="3.4" fill="#6b3412" stroke="none" stroke-width="1"/>
<circle cx="350.50" cy="144.60" r="0.95" fill="#fff" stroke="none" stroke-width="1" fill-opacity="0.9"/>
<text x="379.60" y="147.50" font-size="8.2" text-anchor="end" fill="#222" stroke="#222" stroke-width="0.12">70 K</text>
<circle cx="350.80" cy="155.60" r="2.7" fill="#fff" stroke="#222" stroke-width="0.9"/>
<text x="357.30" y="158.50" font-size="8.2" text-anchor="start" fill="#222" stroke="#222" stroke-width="0.12">no lasing</text>
</g>
<g id="pc">
<text x="1.00" y="257.10" font-size="9.0" text-anchor="start" fill="#111" font-weight="bold" stroke="#111" stroke-width="0.12">(c)</text>
<line x1="39.50" y1="264.40" x2="39.50" y2="475.50" stroke="#222" stroke-width="0.9"/>
<line x1="39.50" y1="475.50" x2="200.50" y2="475.50" stroke="#222" stroke-width="0.9"/>
<line x1="36.70" y1="475.50" x2="39.50" y2="475.50" stroke="#222" stroke-width="0.8"/>
<text x="34.60" y="478.40" font-size="8.4" text-anchor="end" fill="#222" stroke="#222" stroke-width="0.12">0</text>
<line x1="38.10" y1="464.94" x2="39.50" y2="464.94" stroke="#222" stroke-width="0.7"/>
<line x1="36.70" y1="454.39" x2="39.50" y2="454.39" stroke="#222" stroke-width="0.8"/>
<text x="34.60" y="457.29" font-size="8.4" text-anchor="end" fill="#222" stroke="#222" stroke-width="0.12">2</text>
<line x1="38.10" y1="443.83" x2="39.50" y2="443.83" stroke="#222" stroke-width="0.7"/>
<line x1="36.70" y1="433.28" x2="39.50" y2="433.28" stroke="#222" stroke-width="0.8"/>
<text x="34.60" y="436.18" font-size="8.4" text-anchor="end" fill="#222" stroke="#222" stroke-width="0.12">4</text>
<line x1="38.10" y1="422.73" x2="39.50" y2="422.73" stroke="#222" stroke-width="0.7"/>
<line x1="36.70" y1="412.17" x2="39.50" y2="412.17" stroke="#222" stroke-width="0.8"/>
<text x="34.60" y="415.07" font-size="8.4" text-anchor="end" fill="#222" stroke="#222" stroke-width="0.12">6</text>
<line x1="38.10" y1="401.62" x2="39.50" y2="401.62" stroke="#222" stroke-width="0.7"/>
<line x1="36.70" y1="391.06" x2="39.50" y2="391.06" stroke="#222" stroke-width="0.8"/>
<text x="34.60" y="393.96" font-size="8.4" text-anchor="end" fill="#222" stroke="#222" stroke-width="0.12">8</text>
<line x1="38.10" y1="380.50" x2="39.50" y2="380.50" stroke="#222" stroke-width="0.7"/>
<line x1="36.70" y1="369.95" x2="39.50" y2="369.95" stroke="#222" stroke-width="0.8"/>
<text x="34.60" y="372.85" font-size="8.4" text-anchor="end" fill="#222" stroke="#222" stroke-width="0.12">10</text>
<line x1="38.10" y1="359.39" x2="39.50" y2="359.39" stroke="#222" stroke-width="0.7"/>
<line x1="36.70" y1="348.84" x2="39.50" y2="348.84" stroke="#222" stroke-width="0.8"/>
<text x="34.60" y="351.74" font-size="8.4" text-anchor="end" fill="#222" stroke="#222" stroke-width="0.12">12</text>
<line x1="38.10" y1="338.28" x2="39.50" y2="338.28" stroke="#222" stroke-width="0.7"/>
<line x1="36.70" y1="327.73" x2="39.50" y2="327.73" stroke="#222" stroke-width="0.8"/>
<text x="34.60" y="330.63" font-size="8.4" text-anchor="end" fill="#222" stroke="#222" stroke-width="0.12">14</text>
<line x1="38.10" y1="317.18" x2="39.50" y2="317.18" stroke="#222" stroke-width="0.7"/>
<line x1="36.70" y1="306.62" x2="39.50" y2="306.62" stroke="#222" stroke-width="0.8"/>
<text x="34.60" y="309.52" font-size="8.4" text-anchor="end" fill="#222" stroke="#222" stroke-width="0.12">16</text>
<line x1="38.10" y1="296.06" x2="39.50" y2="296.06" stroke="#222" stroke-width="0.7"/>
<line x1="36.70" y1="285.51" x2="39.50" y2="285.51" stroke="#222" stroke-width="0.8"/>
<text x="34.60" y="288.41" font-size="8.4" text-anchor="end" fill="#222" stroke="#222" stroke-width="0.12">18</text>
<line x1="38.10" y1="274.96" x2="39.50" y2="274.96" stroke="#222" stroke-width="0.7"/>
<line x1="36.70" y1="264.40" x2="39.50" y2="264.40" stroke="#222" stroke-width="0.8"/>
<text x="34.60" y="267.30" font-size="8.4" text-anchor="end" fill="#222" stroke="#222" stroke-width="0.12">20</text>
<line x1="39.50" y1="475.50" x2="39.50" y2="478.10" stroke="#222" stroke-width="0.8"/>
<text x="40.30" y="487.90" font-size="8.8" text-anchor="middle" fill="#222" stroke="#222" stroke-width="0.12">0.0</text>
<line x1="57.35" y1="475.50" x2="57.35" y2="477.00" stroke="#222" stroke-width="0.7"/>
<line x1="75.20" y1="475.50" x2="75.20" y2="478.10" stroke="#222" stroke-width="0.8"/>
<text x="76.00" y="487.90" font-size="8.8" text-anchor="middle" fill="#222" stroke="#222" stroke-width="0.12">0.5</text>
<line x1="93.05" y1="475.50" x2="93.05" y2="477.00" stroke="#222" stroke-width="0.7"/>
<line x1="110.90" y1="475.50" x2="110.90" y2="478.10" stroke="#222" stroke-width="0.8"/>
<text x="111.70" y="487.90" font-size="8.8" text-anchor="middle" fill="#222" stroke="#222" stroke-width="0.12">1.0</text>
<line x1="128.75" y1="475.50" x2="128.75" y2="477.00" stroke="#222" stroke-width="0.7"/>
<line x1="146.60" y1="475.50" x2="146.60" y2="478.10" stroke="#222" stroke-width="0.8"/>
<text x="147.40" y="487.90" font-size="8.8" text-anchor="middle" fill="#222" stroke="#222" stroke-width="0.12">1.5</text>
<line x1="164.45" y1="475.50" x2="164.45" y2="477.00" stroke="#222" stroke-width="0.7"/>
<line x1="182.30" y1="475.50" x2="182.30" y2="478.10" stroke="#222" stroke-width="0.8"/>
<text x="183.10" y="487.90" font-size="8.8" text-anchor="middle" fill="#222" stroke="#222" stroke-width="0.12">2.0</text>
<text x="119.80" y="498.40" font-size="9.5" text-anchor="middle" fill="#222" stroke="#222" stroke-width="0.12">Pulse length (µs)</text>
<text x="0" y="0" font-size="9.5" text-anchor="middle" fill="#222" transform="translate(12.2 369.2) rotate(-90)" stroke="#222" stroke-width="0.12">Normalized average power per pulse to the</text>
<text x="0" y="0" font-size="9.5" text-anchor="middle" fill="#222" transform="translate(22.4 366.6) rotate(-90)" stroke="#222" stroke-width="0.12">average power of 100 ns pulse</text>
<text x="50.00" y="288.50" font-size="8.2" text-anchor="start" fill="#222" stroke="#222" stroke-width="0.12">J = 25 kA/cm<tspan font-size="5.4" dy="-3">2</tspan></text>
<text x="50.00" y="298.50" font-size="8.2" text-anchor="start" fill="#222" stroke="#222" stroke-width="0.12"><tspan dy="0">DC = 10%</tspan></text>
<polyline points="54.00,454.60 67.90,448.20 75.10,447.60 110.60,447.30 181.80,446.10" stroke="#111" stroke-width="1.0" fill="none"/>
<polyline points="54.00,454.30 67.90,442.30 75.10,438.20 110.60,416.40 181.80,376.00" stroke="#9a44aa" stroke-width="1.0" fill="none"/>
<polyline points="46.50,465.00 54.00,453.20 67.90,436.00 75.10,427.20 110.60,384.80 181.80,295.50" stroke="#3ba4e6" stroke-width="1.0" fill="none"/>
<circle cx="54.00" cy="454.60" r="1.9" fill="#111" stroke="none" stroke-width="1"/>
<circle cx="67.90" cy="442.30" r="3.3" fill="#8e3c9e" stroke="none" stroke-width="1"/>
<circle cx="67.90" cy="442.30" r="0.95" fill="#fff" stroke="none" stroke-width="1" fill-opacity="0.9"/>
<circle cx="75.10" cy="438.20" r="3.3" fill="#8e3c9e" stroke="none" stroke-width="1"/>
<circle cx="75.10" cy="438.20" r="0.95" fill="#fff" stroke="none" stroke-width="1" fill-opacity="0.9"/>
<circle cx="110.60" cy="416.40" r="3.3" fill="#8e3c9e" stroke="none" stroke-width="1"/>
<circle cx="110.60" cy="416.40" r="0.95" fill="#fff" stroke="none" stroke-width="1" fill-opacity="0.9"/>
<circle cx="181.80" cy="376.00" r="3.3" fill="#8e3c9e" stroke="none" stroke-width="1"/>
<circle cx="181.80" cy="376.00" r="0.95" fill="#fff" stroke="none" stroke-width="1" fill-opacity="0.9"/>
<circle cx="46.50" cy="465.00" r="3.3" fill="#1e9ae6" stroke="none" stroke-width="1"/>
<circle cx="46.50" cy="465.00" r="0.95" fill="#fff" stroke="none" stroke-width="1" fill-opacity="0.9"/>
<circle cx="54.00" cy="453.20" r="3.3" fill="#1e9ae6" stroke="none" stroke-width="1"/>
<circle cx="54.00" cy="453.20" r="0.95" fill="#fff" stroke="none" stroke-width="1" fill-opacity="0.9"/>
<circle cx="67.90" cy="436.00" r="3.3" fill="#1e9ae6" stroke="none" stroke-width="1"/>
<circle cx="67.90" cy="436.00" r="0.95" fill="#fff" stroke="none" stroke-width="1" fill-opacity="0.9"/>
<circle cx="75.10" cy="427.20" r="3.3" fill="#1e9ae6" stroke="none" stroke-width="1"/>
<circle cx="75.10" cy="427.20" r="0.95" fill="#fff" stroke="none" stroke-width="1" fill-opacity="0.9"/>
<circle cx="110.60" cy="384.80" r="3.3" fill="#1e9ae6" stroke="none" stroke-width="1"/>
<circle cx="110.60" cy="384.80" r="0.95" fill="#fff" stroke="none" stroke-width="1" fill-opacity="0.9"/>
<circle cx="181.80" cy="295.50" r="3.3" fill="#1e9ae6" stroke="none" stroke-width="1"/>
<circle cx="181.80" cy="295.50" r="0.95" fill="#fff" stroke="none" stroke-width="1" fill-opacity="0.9"/>
<circle cx="67.90" cy="448.20" r="3.4" fill="#1b9a3c" stroke="none" stroke-width="1"/>
<circle cx="67.90" cy="448.20" r="0.95" fill="#fff" stroke="none" stroke-width="1" fill-opacity="0.9"/>
<circle cx="75.10" cy="447.60" r="2.4" fill="#000" stroke="none" stroke-width="1"/>
<circle cx="110.60" cy="447.30" r="3.6" fill="#f59a10" stroke="none" stroke-width="1"/>
<circle cx="110.60" cy="447.30" r="1.05" fill="#fff" stroke="none" stroke-width="1" fill-opacity="0.9"/>
<circle cx="181.80" cy="446.20" r="3.6" fill="#e2102c" stroke="none" stroke-width="1"/>
<circle cx="181.80" cy="446.20" r="1.05" fill="#fff" stroke="none" stroke-width="1" fill-opacity="0.9"/>
<text x="150.60" y="321.60" font-size="9.4" text-anchor="middle" fill="#3a4ab0" stroke="#3a4ab0" stroke-width="0.12">5K</text>
<text x="166.40" y="376.00" font-size="9.4" text-anchor="middle" fill="#9a3aa8" stroke="#9a3aa8" stroke-width="0.12">30K</text>
<text x="171.50" y="439.60" font-size="9.4" text-anchor="middle" fill="#e2102c" stroke="#e2102c" stroke-width="0.12">40K</text>
<text x="68.60" y="462.40" font-size="9.4" text-anchor="middle" fill="#333" stroke="#333" stroke-width="0.12">(c<tspan font-size="6.4" dy="1.8">1</tspan><tspan dy="-1.8">)</tspan></text>
<text x="110.90" y="462.40" font-size="9.4" text-anchor="middle" fill="#333" stroke="#333" stroke-width="0.12">(c<tspan font-size="6.4" dy="1.8">2</tspan><tspan dy="-1.8">)</tspan></text>
<text x="181.70" y="462.40" font-size="9.4" text-anchor="middle" fill="#333" stroke="#333" stroke-width="0.12">(c<tspan font-size="6.4" dy="1.8">3</tspan><tspan dy="-1.8">)</tspan></text>
</g>
<g id="pd">
<text x="641.70" y="204.60" font-size="9.0" text-anchor="start" fill="#111" font-weight="bold" stroke="#111" stroke-width="0.12">(d)</text>
<line x1="393.50" y1="456.50" x2="545.70" y2="456.50" stroke="#222" stroke-width="0.9"/>
<line x1="393.50" y1="456.50" x2="393.50" y2="459.50" stroke="#222" stroke-width="0.8"/>
<text x="392.30" y="470.00" font-size="8.6" text-anchor="middle" fill="#222" stroke="#222" stroke-width="0.12">0.40</text>
<line x1="408.60" y1="456.50" x2="408.60" y2="458.30" stroke="#222" stroke-width="0.7"/>
<line x1="423.70" y1="456.50" x2="423.70" y2="459.50" stroke="#222" stroke-width="0.8"/>
<text x="422.50" y="470.00" font-size="8.6" text-anchor="middle" fill="#222" stroke="#222" stroke-width="0.12">0.45</text>
<line x1="438.80" y1="456.50" x2="438.80" y2="458.30" stroke="#222" stroke-width="0.7"/>
<line x1="453.90" y1="456.50" x2="453.90" y2="459.50" stroke="#222" stroke-width="0.8"/>
<text x="452.70" y="470.00" font-size="8.6" text-anchor="middle" fill="#222" stroke="#222" stroke-width="0.12">0.50</text>
<line x1="469.00" y1="456.50" x2="469.00" y2="458.30" stroke="#222" stroke-width="0.7"/>
<line x1="484.10" y1="456.50" x2="484.10" y2="459.50" stroke="#222" stroke-width="0.8"/>
<text x="482.90" y="470.00" font-size="8.6" text-anchor="middle" fill="#222" stroke="#222" stroke-width="0.12">0.55</text>
<line x1="499.20" y1="456.50" x2="499.20" y2="458.30" stroke="#222" stroke-width="0.7"/>
<line x1="514.30" y1="456.50" x2="514.30" y2="459.50" stroke="#222" stroke-width="0.8"/>
<text x="513.10" y="470.00" font-size="8.6" text-anchor="middle" fill="#222" stroke="#222" stroke-width="0.12">0.60</text>
<line x1="529.40" y1="456.50" x2="529.40" y2="458.30" stroke="#222" stroke-width="0.7"/>
<line x1="544.50" y1="456.50" x2="544.50" y2="459.50" stroke="#222" stroke-width="0.8"/>
<text x="543.30" y="470.00" font-size="8.6" text-anchor="middle" fill="#222" stroke="#222" stroke-width="0.12">0.65</text>
<text x="468.70" y="485.00" font-size="10.1" text-anchor="middle" fill="#222" stroke="#222" stroke-width="0.12">Energy (eV)</text>
<line x1="393.50" y1="456.50" x2="532.50" y2="342.00" stroke="#dedede" stroke-width="0.5"/>
<line x1="423.70" y1="456.50" x2="557.86" y2="342.00" stroke="#dedede" stroke-width="0.5"/>
<line x1="453.90" y1="456.50" x2="583.22" y2="342.00" stroke="#dedede" stroke-width="0.5"/>
<line x1="484.10" y1="456.50" x2="608.58" y2="342.00" stroke="#dedede" stroke-width="0.5"/>
<line x1="514.30" y1="456.50" x2="633.94" y2="342.00" stroke="#dedede" stroke-width="0.5"/>
<line x1="545.70" y1="456.50" x2="659.30" y2="342.00" stroke="#222" stroke-width="0.9"/>
<line x1="659.50" y1="342.00" x2="659.50" y2="196.60" stroke="#222" stroke-width="0.9"/>
<line x1="659.30" y1="342.00" x2="662.90" y2="342.00" stroke="#222" stroke-width="0.8"/>
<text x="665.00" y="345.10" font-size="8.6" text-anchor="start" fill="#222" stroke="#222" stroke-width="0.12">0</text>
<line x1="659.30" y1="294.80" x2="662.90" y2="294.80" stroke="#222" stroke-width="0.8"/>
<text x="665.00" y="297.90" font-size="8.6" text-anchor="start" fill="#222" stroke="#222" stroke-width="0.12">1</text>
<line x1="659.30" y1="245.80" x2="662.90" y2="245.80" stroke="#222" stroke-width="0.8"/>
<text x="665.00" y="248.90" font-size="8.6" text-anchor="start" fill="#222" stroke="#222" stroke-width="0.12">2</text>
<line x1="659.30" y1="196.60" x2="662.90" y2="196.60" stroke="#222" stroke-width="0.8"/>
<text x="665.00" y="199.70" font-size="8.6" text-anchor="start" fill="#222" stroke="#222" stroke-width="0.12">3</text>
<line x1="659.30" y1="318.40" x2="661.40" y2="318.40" stroke="#222" stroke-width="0.7"/>
<line x1="659.30" y1="270.30" x2="661.40" y2="270.30" stroke="#222" stroke-width="0.7"/>
<line x1="659.30" y1="221.20" x2="661.40" y2="221.20" stroke="#222" stroke-width="0.7"/>
<text x="0" y="0" font-size="8.3" text-anchor="middle" fill="#222" transform="translate(684.6 269.5) rotate(-90)" stroke="#222" stroke-width="0.12">DC scaled average power (Arb. units)</text>
<line x1="523.30" y1="342.00" x2="659.30" y2="342.00" stroke="#d8d8d8" stroke-width="0.5"/>
<line x1="559.09" y1="443.00" x2="559.09" y2="446.00" stroke="#222" stroke-width="0.8"/>
<text x="565.00" y="451.30" font-size="7.8" text-anchor="middle" fill="#222" stroke="#222" stroke-width="0.12">0.1</text>
<line x1="579.43" y1="422.50" x2="579.43" y2="425.50" stroke="#222" stroke-width="0.8"/>
<text x="588.30" y="429.30" font-size="7.8" text-anchor="middle" fill="#222" stroke="#222" stroke-width="0.12">0.2</text>
<line x1="601.26" y1="400.50" x2="601.26" y2="403.50" stroke="#222" stroke-width="0.8"/>
<text x="607.60" y="409.10" font-size="7.8" text-anchor="middle" fill="#222" stroke="#222" stroke-width="0.12">0.4</text>
<line x1="619.32" y1="382.30" x2="619.32" y2="385.30" stroke="#222" stroke-width="0.8"/>
<text x="627.90" y="389.80" font-size="7.8" text-anchor="middle" fill="#222" stroke="#222" stroke-width="0.12">0.5</text>
<line x1="635.98" y1="365.50" x2="635.98" y2="368.50" stroke="#222" stroke-width="0.8"/>
<text x="640.90" y="372.40" font-size="7.8" text-anchor="middle" fill="#222" stroke="#222" stroke-width="0.12">1</text>
<line x1="653.35" y1="348.00" x2="653.35" y2="351.00" stroke="#222" stroke-width="0.8"/>
<text x="658.50" y="354.40" font-size="7.8" text-anchor="middle" fill="#222" stroke="#222" stroke-width="0.12">2</text>
<text x="0" y="0" font-size="9.6" text-anchor="middle" fill="#222" transform="translate(628.5 419.5) rotate(-45.5)" stroke="#222" stroke-width="0.12">Pulse length (µs)</text>
<polyline points="533.30,350.21 533.69,350.08 534.07,349.52 534.46,346.84 534.84,349.99 535.23,349.96 535.62,348.84 536.00,345.71 536.39,349.74 536.78,349.34 537.16,347.77 537.55,347.84 537.93,347.40 538.32,349.07 538.71,349.69 539.09,350.38 539.48,347.45 539.87,348.37 540.25,347.25 540.64,347.90 541.02,345.53 541.41,346.93 541.80,347.65 542.18,347.84 542.57,348.80 542.96,348.57 543.34,348.43 543.73,345.19 544.11,348.17 544.50,348.87 544.89,347.39 545.27,346.53 545.66,349.75 546.05,351.84 546.43,348.22 546.82,345.93 547.20,348.92 547.59,346.59 547.98,347.10 548.36,346.45 548.75,348.77 549.14,348.25 549.52,344.80 549.91,346.39 550.29,351.97 550.68,345.37 551.07,344.04 551.45,348.02 551.84,346.10 552.23,349.01 552.61,347.42 553.00,347.35 553.38,348.58 553.77,345.89 554.16,346.51 554.54,346.34 554.93,345.87 555.32,351.25 555.70,346.83 556.09,350.22 556.47,348.16 556.86,347.49 557.25,349.32 557.63,347.20 558.02,349.76 558.41,348.21 558.79,345.88 559.18,349.13 559.56,347.10 559.95,350.09 560.34,346.89 560.72,350.46 561.11,349.16 561.50,350.39 561.88,347.00 562.27,349.19 562.65,348.39 563.04,346.99 563.43,345.83 563.81,346.42 564.20,347.83 564.59,344.88 564.97,345.90 565.36,347.71 565.74,344.13 566.13,349.10 566.52,347.66 566.90,345.15 567.29,346.16 567.68,346.57 568.06,347.99 568.45,349.11 568.83,348.05 569.22,346.48 569.61,348.23 569.99,349.79 570.38,347.96 570.77,343.52 571.15,345.56 571.54,343.48 571.92,347.06 572.31,347.36 572.70,347.96 573.08,343.85 573.47,348.40 573.86,347.06 574.24,345.68 574.63,349.25 575.01,347.75 575.40,348.20 575.79,346.99 576.17,345.68 576.56,348.04 576.95,345.78 577.33,347.63 577.72,346.52 578.10,346.68 578.49,347.57 578.88,348.73 579.26,346.49 579.65,346.36 580.04,342.05 580.42,343.28 580.81,343.19 581.19,346.13 581.58,342.60 581.97,343.02 582.35,344.24 582.74,341.86 583.13,343.62 583.51,343.30 583.90,343.99 584.28,345.19 584.67,341.40 585.06,345.62 585.44,342.61 585.83,345.16 586.22,342.62 586.60,344.30 586.99,340.81 587.37,343.09 587.76,342.64 588.15,343.12 588.53,342.74 588.92,342.58 589.31,338.79 589.69,340.52 590.08,342.35 590.46,338.16 590.85,339.75 591.24,338.62 591.62,338.09 592.01,341.61 592.40,340.62 592.78,339.11 593.17,336.16 593.55,337.20 593.94,341.78 594.33,341.62 594.71,336.12 595.10,338.31 595.49,336.66 595.87,336.30 596.26,341.64 596.64,336.76 597.03,338.43 597.42,338.39 597.80,334.64 598.19,338.21 598.58,339.29 598.96,340.82 599.35,335.23 599.73,337.13 600.12,340.57 600.51,338.23 600.89,338.00 601.28,342.13 601.67,338.10 602.05,340.37 602.44,337.29 602.82,340.58 603.21,339.79 603.60,343.87 603.98,341.80 604.37,342.19 604.76,337.17 605.14,341.19 605.53,340.62 605.91,342.64 606.30,342.55 606.69,341.35 607.07,337.46 607.46,343.18 607.85,339.27 608.23,339.79 608.62,342.32 609.00,341.66 609.39,341.17 609.78,344.94 610.16,344.07 610.55,345.15 610.94,344.47 611.32,343.08 611.71,340.51 612.09,343.15 612.48,343.81 612.87,348.88 613.25,342.87 613.64,346.51 614.03,344.17 614.41,344.51 614.80,343.27 615.18,346.60 615.57,345.41 615.96,346.05 616.34,346.88 616.73,344.79 617.12,347.16 617.50,347.12 617.89,345.71 618.27,344.94 618.66,352.53 619.05,347.05 619.43,347.47 619.82,342.26 620.21,354.21 620.59,347.27 620.98,347.12 621.36,348.22 621.75,345.34 622.14,347.46 622.52,347.80 622.91,351.70 623.30,347.20 623.68,347.00 624.07,345.15 624.45,347.71 624.84,344.82 625.23,344.45 625.61,349.33 626.00,345.97 626.39,350.29 626.77,350.76 627.16,346.73 627.54,347.10 627.93,348.47 628.32,349.97 628.70,350.65 629.09,347.95 629.48,349.29 629.86,346.63 630.25,346.51 630.63,350.44 631.02,348.89 631.41,349.69 631.79,348.48 632.18,349.21 632.57,350.46 632.95,350.50 633.34,350.03 633.72,349.02 634.11,352.40 634.50,349.43 634.88,346.66 635.27,347.73 635.66,349.74 636.04,351.66 636.43,345.05 636.81,347.04 637.20,346.45 637.59,348.48 637.97,348.50 638.36,350.62 638.75,351.14 639.13,348.71 639.52,347.86 639.90,348.56 640.29,350.09 640.68,350.34 641.06,348.31 641.45,347.67 641.84,349.23 642.22,350.64 642.61,346.98 642.99,347.94 643.38,351.66 643.77,350.31 644.15,346.31 644.54,348.79 644.93,351.13 645.31,348.54 645.70,348.06 646.08,347.71 646.47,349.38 646.86,349.42 647.24,348.88 647.63,347.83 648.02,348.34 648.40,346.28 648.79,352.69 649.17,350.22 649.56,348.49 649.95,348.02 650.33,345.82 650.72,347.94 651.11,349.03 651.49,352.22 651.88,348.65 652.26,348.87 652.65,346.58" stroke="#e8232f" stroke-width="1.25" fill="none" stroke-linejoin="round"/>
<polygon points="596.68,335.14 597.28,218.50 597.70,217.00 598.12,218.50 598.72,335.14" fill="#e8232f"/>
<polyline points="512.80,366.28 513.19,364.48 513.57,364.80 513.96,364.19 514.35,366.38 514.73,363.46 515.12,364.68 515.51,366.19 515.89,366.41 516.28,366.35 516.67,365.64 517.06,363.36 517.44,363.70 517.83,365.43 518.22,365.43 518.60,362.46 518.99,363.69 519.38,365.73 519.76,364.95 520.15,365.28 520.54,364.58 520.92,363.71 521.31,365.09 521.70,364.31 522.08,364.07 522.47,363.81 522.86,365.51 523.24,365.02 523.63,362.38 524.02,364.97 524.41,364.71 524.79,364.21 525.18,365.43 525.57,365.21 525.95,362.72 526.34,363.18 526.73,366.06 527.11,364.65 527.50,366.28 527.89,366.57 528.27,364.72 528.66,362.89 529.05,364.82 529.43,362.96 529.82,365.99 530.21,364.55 530.59,364.62 530.98,364.61 531.37,363.52 531.75,364.02 532.14,365.36 532.53,366.33 532.92,365.37 533.30,364.72 533.69,365.36 534.08,366.53 534.46,366.81 534.85,363.72 535.24,364.38 535.62,365.39 536.01,364.16 536.40,364.09 536.78,364.94 537.17,365.19 537.56,363.30 537.94,363.65 538.33,362.95 538.72,363.45 539.10,364.35 539.49,365.20 539.88,365.07 540.27,365.37 540.65,364.57 541.04,364.39 541.43,363.24 541.81,363.02 542.20,364.65 542.59,364.16 542.97,366.03 543.36,365.43 543.75,365.92 544.13,364.45 544.52,365.24 544.91,365.52 545.29,364.62 545.68,366.83 546.07,364.68 546.45,364.01 546.84,363.07 547.23,365.95 547.62,365.05 548.00,366.98 548.39,362.92 548.78,364.74 549.16,364.21 549.55,366.30 549.94,364.76 550.32,365.18 550.71,365.89 551.10,365.82 551.48,365.54 551.87,365.42 552.26,366.46 552.64,362.74 553.03,364.34 553.42,364.14 553.80,364.12 554.19,364.54 554.58,364.33 554.97,363.55 555.35,364.49 555.74,362.61 556.13,364.34 556.51,362.66 556.90,365.07 557.29,363.59 557.67,363.05 558.06,362.24 558.45,362.15 558.83,364.84 559.22,364.39 559.61,361.69 559.99,363.92 560.38,365.19 560.77,362.00 561.15,362.52 561.54,364.58 561.93,363.76 562.32,361.46 562.70,363.42 563.09,363.45 563.48,363.19 563.86,361.06 564.25,364.47 564.64,362.03 565.02,362.25 565.41,361.75 565.80,361.34 566.18,362.05 566.57,361.30 566.96,361.36 567.34,360.10 567.73,364.31 568.12,361.69 568.50,361.30 568.89,362.86 569.28,359.54 569.66,360.42 570.05,362.91 570.44,361.13 570.83,359.88 571.21,360.47 571.60,361.36 571.99,359.69 572.37,359.93 572.76,361.28 573.15,360.39 573.53,358.52 573.92,358.58 574.31,361.02 574.69,360.57 575.08,358.13 575.47,359.03 575.85,359.61 576.24,359.99 576.63,359.36 577.01,358.48 577.40,362.26 577.79,358.50 578.18,360.57 578.56,361.02 578.95,360.26 579.34,360.77 579.72,360.69 580.11,359.47 580.50,360.05 580.88,358.42 581.27,361.42 581.66,358.72 582.04,361.11 582.43,359.56 582.82,360.19 583.20,358.76 583.59,361.41 583.98,359.90 584.36,358.23 584.75,358.64 585.14,360.53 585.53,359.39 585.91,359.10 586.30,359.86 586.69,359.14 587.07,359.46 587.46,363.38 587.85,360.07 588.23,356.71 588.62,361.46 589.01,361.48 589.39,361.16 589.78,362.27 590.17,361.81 590.55,361.65 590.94,359.26 591.33,362.02 591.71,361.16 592.10,362.17 592.49,363.14 592.88,362.92 593.26,363.56 593.65,360.70 594.04,362.71 594.42,364.23 594.81,362.62 595.20,360.24 595.58,362.45 595.97,362.89 596.36,362.59 596.74,363.47 597.13,364.30 597.52,361.59 597.90,367.17 598.29,363.91 598.68,364.41 599.06,363.66 599.45,364.34 599.84,362.17 600.23,361.70 600.61,363.43 601.00,365.17 601.39,364.59 601.77,364.18 602.16,364.86 602.55,365.31 602.93,361.78 603.32,362.77 603.71,365.09 604.09,365.01 604.48,363.91 604.87,364.81 605.25,363.35 605.64,363.11 606.03,364.03 606.41,365.20 606.80,364.49 607.19,366.09 607.57,364.59 607.96,362.01 608.35,364.84 608.74,363.38 609.12,362.76 609.51,362.29 609.90,365.81 610.28,364.47 610.67,364.90 611.06,362.61 611.44,362.94 611.83,365.51 612.22,364.92 612.60,363.83 612.99,361.80 613.38,364.70 613.76,362.80 614.15,365.27 614.54,365.74 614.92,363.29 615.31,365.20 615.70,366.14 616.09,362.78 616.47,363.55 616.86,365.81 617.25,363.25 617.63,363.76 618.02,363.61 618.41,365.55 618.79,364.78 619.18,366.83 619.57,366.83 619.95,363.31 620.34,364.84 620.73,364.03 621.11,364.55 621.50,364.91 621.89,364.89 622.27,363.69 622.66,364.56 623.05,366.12 623.44,362.92 623.82,362.60 624.21,363.35 624.60,362.49 624.98,364.04 625.37,364.23 625.76,362.90 626.14,363.61 626.53,365.68 626.92,364.46 627.30,364.14 627.69,361.62 628.08,364.19 628.46,365.16 628.85,365.54 629.24,364.44 629.62,365.01 630.01,364.38 630.40,365.45 630.79,366.18 631.17,364.58 631.56,363.83 631.95,364.10 632.33,366.07 632.72,364.60 633.11,363.29 633.49,363.89 633.88,365.00 634.27,364.79 634.65,364.78 635.04,363.98 635.43,364.68 635.81,363.69 636.20,364.03 636.59,364.05 636.97,363.29" stroke="#d4a21c" stroke-width="1.15" fill="none" stroke-linejoin="round"/>
<polygon points="578.28,361.27 578.88,233.40 579.30,231.90 579.72,233.40 580.32,361.27" fill="#d4a21c"/>
<polyline points="491.60,379.93 491.99,381.55 492.37,379.40 492.76,379.17 493.15,382.64 493.53,381.87 493.92,380.15 494.31,380.68 494.69,380.32 495.08,381.33 495.47,379.25 495.86,379.37 496.24,380.23 496.63,378.96 497.02,379.75 497.40,381.34 497.79,379.87 498.18,381.46 498.56,379.26 498.95,380.37 499.34,380.53 499.72,381.13 500.11,378.85 500.50,380.50 500.88,380.83 501.27,380.74 501.66,379.68 502.04,379.88 502.43,379.82 502.82,379.80 503.21,377.75 503.59,380.81 503.98,380.93 504.37,381.30 504.75,379.58 505.14,378.97 505.53,380.46 505.91,381.33 506.30,381.31 506.69,379.54 507.07,379.43 507.46,379.67 507.85,381.12 508.23,380.05 508.62,380.19 509.01,380.06 509.39,379.28 509.78,380.06 510.17,379.51 510.55,380.25 510.94,379.98 511.33,379.57 511.72,382.08 512.10,380.71 512.49,380.89 512.88,381.10 513.26,380.66 513.65,378.54 514.04,381.37 514.42,379.17 514.81,382.35 515.20,380.73 515.58,380.14 515.97,379.63 516.36,379.48 516.74,379.38 517.13,380.75 517.52,380.89 517.90,379.30 518.29,380.56 518.68,381.86 519.07,381.69 519.45,381.43 519.84,379.73 520.23,380.16 520.61,379.50 521.00,380.84 521.39,380.13 521.77,379.57 522.16,380.69 522.55,379.77 522.93,381.11 523.32,380.75 523.71,380.77 524.09,381.74 524.48,379.72 524.87,380.87 525.25,380.28 525.64,379.72 526.03,379.75 526.42,379.49 526.80,380.40 527.19,380.78 527.58,380.36 527.96,382.29 528.35,381.99 528.74,381.83 529.12,381.43 529.51,379.75 529.90,381.31 530.28,380.66 530.67,378.64 531.06,380.61 531.44,379.29 531.83,381.28 532.22,380.39 532.60,381.27 532.99,380.52 533.38,379.09 533.76,382.15 534.15,379.54 534.54,379.75 534.93,380.73 535.31,381.73 535.70,379.89 536.09,380.58 536.47,379.64 536.86,379.87 537.25,377.94 537.63,380.12 538.02,381.03 538.41,379.56 538.79,379.47 539.18,378.07 539.57,378.66 539.95,379.20 540.34,377.83 540.73,380.97 541.11,380.27 541.50,380.57 541.89,379.88 542.28,381.02 542.66,378.56 543.05,379.54 543.44,380.99 543.82,380.39 544.21,378.74 544.60,378.06 544.98,376.61 545.37,375.46 545.76,378.40 546.14,380.03 546.53,381.34 546.92,378.40 547.30,379.63 547.69,379.10 548.08,379.27 548.46,378.64 548.85,377.13 549.24,378.16 549.63,378.48 550.01,379.47 550.40,380.17 550.79,378.68 551.17,378.10 551.56,375.85 551.95,377.76 552.33,376.67 552.72,378.39 553.11,379.15 553.49,378.83 553.88,378.49 554.27,375.01 554.65,378.49 555.04,376.45 555.43,378.49 555.81,376.24 556.20,376.85 556.59,377.45 556.97,377.27 557.36,377.97 557.75,376.61 558.14,377.66 558.52,378.55 558.91,378.58 559.30,376.81 559.68,375.10 560.07,376.78 560.46,377.10 560.84,376.60 561.23,375.36 561.62,376.66 562.00,377.41 562.39,375.58 562.78,376.40 563.16,375.07 563.55,376.70 563.94,378.40 564.32,378.58 564.71,374.98 565.10,374.91 565.49,377.21 565.87,377.48 566.26,375.29 566.65,378.41 567.03,378.19 567.42,376.37 567.81,377.66 568.19,377.23 568.58,377.46 568.97,376.91 569.35,375.67 569.74,377.30 570.13,376.69 570.51,379.97 570.90,377.63 571.29,378.63 571.67,379.14 572.06,378.79 572.45,378.20 572.84,376.76 573.22,379.51 573.61,377.95 574.00,378.63 574.38,378.50 574.77,376.97 575.16,377.59 575.54,376.70 575.93,378.55 576.32,379.26 576.70,378.76 577.09,378.27 577.48,378.41 577.86,379.98 578.25,378.64 578.64,378.53 579.02,375.84 579.41,376.67 579.80,380.01 580.19,379.39 580.57,380.85 580.96,379.86 581.35,378.83 581.73,377.81 582.12,380.19 582.51,380.15 582.89,381.99 583.28,379.66 583.67,380.78 584.05,380.19 584.44,380.65 584.83,379.75 585.21,381.79 585.60,381.48 585.99,377.21 586.37,381.34 586.76,381.15 587.15,377.66 587.53,376.41 587.92,381.34 588.31,380.40 588.70,379.58 589.08,377.94 589.47,381.23 589.86,380.36 590.24,379.16 590.63,379.60 591.02,380.59 591.40,380.32 591.79,381.83 592.18,380.48 592.56,380.54 592.95,379.95 593.34,380.91 593.72,379.70 594.11,379.06 594.50,380.10 594.88,379.88 595.27,380.25 595.66,380.33 596.05,381.20 596.43,379.97 596.82,380.47 597.21,377.85 597.59,378.49 597.98,379.92 598.37,381.30 598.75,381.73 599.14,378.97 599.53,380.09 599.91,379.84 600.30,382.51 600.69,379.31 601.07,379.88 601.46,381.76 601.85,381.00 602.23,380.12 602.62,380.38 603.01,380.80 603.40,380.57 603.78,380.75 604.17,380.27 604.56,378.69 604.94,383.54 605.33,380.75 605.72,380.25 606.10,380.11 606.49,380.91 606.88,382.58 607.26,380.08 607.65,378.40 608.04,382.31 608.42,379.44 608.81,380.87 609.20,380.55 609.58,381.74 609.97,380.88 610.36,378.92 610.74,379.78 611.13,378.40 611.52,379.07 611.91,379.96 612.29,378.39 612.68,379.96 613.07,379.49 613.45,380.84 613.84,380.41 614.23,381.33 614.61,379.30 615.00,381.90 615.39,379.55 615.77,380.72 616.16,379.09 616.55,379.59 616.93,378.31 617.32,379.62 617.71,382.38 618.09,380.58 618.48,381.90 618.87,381.12 619.26,378.68 619.64,379.73 620.03,381.34 620.42,381.72 620.80,380.46" stroke="#c8d23c" stroke-width="1.15" fill="none" stroke-linejoin="round"/>
<polygon points="560.88,377.91 561.48,240.30 561.90,238.80 562.32,240.30 562.92,377.91" fill="#c8d23c"/>
<polyline points="466.70,400.60 467.09,400.26 467.47,401.27 467.86,401.53 468.25,402.39 468.63,400.02 469.02,400.78 469.41,400.63 469.79,401.42 470.18,399.81 470.57,400.04 470.95,400.89 471.34,401.24 471.73,401.08 472.11,401.43 472.50,400.77 472.89,401.28 473.27,400.32 473.66,401.08 474.05,401.07 474.43,399.56 474.82,401.37 475.21,402.04 475.59,400.49 475.98,402.45 476.37,400.57 476.75,400.00 477.14,400.73 477.53,400.78 477.91,402.42 478.30,400.34 478.69,400.46 479.07,401.72 479.46,399.25 479.85,401.76 480.23,402.12 480.62,402.23 481.01,400.76 481.39,400.51 481.78,400.42 482.17,401.05 482.55,401.43 482.94,400.10 483.33,401.49 483.71,401.74 484.10,399.65 484.48,400.63 484.87,400.39 485.26,400.27 485.64,401.23 486.03,401.20 486.42,400.26 486.80,401.26 487.19,400.50 487.58,400.84 487.96,401.72 488.35,399.99 488.74,401.80 489.12,400.58 489.51,400.71 489.90,399.75 490.28,401.66 490.67,401.19 491.06,400.84 491.44,400.61 491.83,400.06 492.22,400.50 492.60,400.73 492.99,399.93 493.38,399.07 493.76,401.83 494.15,400.75 494.54,400.14 494.92,400.67 495.31,399.59 495.70,401.01 496.08,401.55 496.47,400.04 496.86,402.95 497.24,401.11 497.63,398.83 498.02,400.70 498.40,400.44 498.79,401.48 499.18,400.73 499.56,400.83 499.95,399.22 500.34,401.51 500.72,402.91 501.11,400.37 501.50,399.45 501.88,401.24 502.27,402.14 502.66,401.54 503.04,400.33 503.43,401.12 503.82,400.63 504.20,402.54 504.59,401.07 504.98,400.01 505.36,400.85 505.75,401.45 506.14,399.78 506.52,399.82 506.91,400.98 507.30,401.19 507.68,399.57 508.07,401.02 508.46,400.70 508.84,399.12 509.23,400.40 509.62,400.93 510.00,402.11 510.39,400.49 510.78,400.57 511.16,400.99 511.55,399.74 511.94,401.50 512.32,401.72 512.71,401.07 513.10,400.47 513.48,401.64 513.87,401.36 514.26,401.08 514.64,400.44 515.03,400.97 515.42,399.61 515.80,402.15 516.19,400.05 516.58,400.83 516.96,399.97 517.35,398.75 517.74,400.37 518.12,400.13 518.51,399.61 518.90,401.32 519.28,399.71 519.67,399.57 520.05,400.31 520.44,399.66 520.83,400.06 521.21,400.76 521.60,401.18 521.99,399.33 522.37,398.67 522.76,400.70 523.15,399.76 523.53,401.01 523.92,400.40 524.31,400.40 524.69,400.90 525.08,400.03 525.47,399.16 525.85,399.49 526.24,400.34 526.63,398.77 527.01,399.72 527.40,398.44 527.79,400.91 528.17,397.44 528.56,399.98 528.95,400.78 529.33,400.67 529.72,399.06 530.11,399.08 530.49,399.14 530.88,399.30 531.27,400.68 531.65,399.89 532.04,401.62 532.43,400.46 532.81,399.22 533.20,401.26 533.59,397.85 533.97,398.74 534.36,400.67 534.75,399.17 535.13,399.31 535.52,399.86 535.91,399.28 536.29,399.97 536.68,399.78 537.07,399.33 537.45,399.39 537.84,399.51 538.23,399.50 538.61,399.01 539.00,399.15 539.39,400.74 539.77,400.41 540.16,398.64 540.55,398.57 540.93,399.38 541.32,400.06 541.71,399.20 542.09,399.32 542.48,401.12 542.87,399.84 543.25,401.03 543.64,400.29 544.03,399.91 544.41,398.58 544.80,401.66 545.19,400.27 545.57,399.46 545.96,399.49 546.35,399.36 546.73,400.85 547.12,400.17 547.51,400.46 547.89,399.06 548.28,400.23 548.67,400.12 549.05,400.00 549.44,401.22 549.83,399.77 550.21,401.09 550.60,400.07 550.99,400.82 551.37,399.29 551.76,400.24 552.15,398.74 552.53,402.08 552.92,399.21 553.31,399.64 553.69,400.10 554.08,398.59 554.47,401.51 554.85,400.21 555.24,399.39 555.62,399.92 556.01,400.72 556.40,399.91 556.78,400.77 557.17,400.72 557.56,400.99 557.94,399.62 558.33,400.23 558.72,398.47 559.10,399.82 559.49,401.69 559.88,399.87 560.26,401.39 560.65,400.75 561.04,400.42 561.42,401.41 561.81,400.95 562.20,401.09 562.58,400.44 562.97,400.62 563.36,400.65 563.74,399.21 564.13,400.14 564.52,400.24 564.90,399.71 565.29,399.10 565.68,399.47 566.06,401.44 566.45,400.18 566.84,399.98 567.22,399.83 567.61,400.72 568.00,400.55 568.38,401.32 568.77,400.91 569.16,401.55 569.54,399.60 569.93,401.04 570.32,401.37 570.70,400.39 571.09,400.54 571.48,401.17 571.86,400.32 572.25,401.13 572.64,400.22 573.02,400.65 573.41,400.45 573.80,400.93 574.18,401.16 574.57,400.43 574.96,401.89 575.34,399.52 575.73,400.99 576.12,398.97 576.50,400.09 576.89,400.70 577.28,401.11 577.66,400.21 578.05,400.26 578.44,400.28 578.82,399.96 579.21,400.53 579.60,399.71 579.98,401.24 580.37,400.79 580.76,400.13 581.14,401.25 581.53,400.59 581.92,399.40 582.30,400.54 582.69,401.00 583.08,399.72 583.46,401.53 583.85,400.89 584.24,399.77 584.62,401.24 585.01,400.42 585.40,400.68 585.78,399.37 586.17,401.76 586.56,401.05 586.94,400.88 587.33,400.32 587.72,400.18 588.10,400.28 588.49,399.48 588.88,400.08 589.26,401.64 589.65,401.77 590.03,401.05 590.42,401.04 590.81,400.96 591.19,399.78 591.58,401.12 591.97,399.73 592.35,399.69 592.74,400.59 593.13,401.03 593.51,399.58 593.90,401.29 594.29,400.23 594.67,400.39 595.06,399.57 595.45,400.32 595.83,400.59 596.22,399.76 596.61,400.91 596.99,400.16 597.38,400.50 597.77,400.58 598.15,401.79 598.54,400.61 598.93,401.41 599.31,400.18 599.70,398.71 600.09,400.78 600.47,399.87 600.86,399.79" stroke="#18983a" stroke-width="1.15" fill="none" stroke-linejoin="round"/>
<polygon points="536.98,400.01 537.58,282.20 538.00,280.70 538.42,282.20 539.02,400.01" fill="#18983a"/>
<polyline points="436.50,421.44 436.89,422.52 437.27,422.34 437.66,421.69 438.05,421.94 438.43,422.14 438.82,422.90 439.21,423.41 439.59,422.30 439.98,423.01 440.37,421.94 440.75,422.43 441.14,423.19 441.53,422.38 441.91,422.03 442.30,422.45 442.68,423.22 443.07,422.39 443.46,422.31 443.84,421.94 444.23,422.02 444.62,423.32 445.00,422.99 445.39,422.11 445.78,423.95 446.16,421.97 446.55,423.26 446.94,422.93 447.32,421.44 447.71,422.64 448.10,422.83 448.48,422.37 448.87,422.67 449.26,423.09 449.64,422.39 450.03,420.88 450.42,421.85 450.80,422.24 451.19,422.38 451.58,421.95 451.96,422.09 452.35,423.27 452.73,422.18 453.12,422.55 453.51,421.22 453.89,422.76 454.28,421.59 454.67,423.51 455.05,422.34 455.44,423.16 455.83,423.29 456.21,421.96 456.60,423.37 456.99,422.70 457.37,423.15 457.76,422.27 458.15,422.36 458.53,424.32 458.92,422.02 459.31,423.07 459.69,420.98 460.08,421.87 460.47,421.82 460.85,424.46 461.24,421.18 461.63,422.53 462.01,423.62 462.40,422.31 462.78,421.54 463.17,423.81 463.56,421.72 463.94,422.81 464.33,423.00 464.72,422.89 465.10,423.20 465.49,422.40 465.88,422.36 466.26,421.74 466.65,421.46 467.04,422.80 467.42,421.71 467.81,423.46 468.20,422.05 468.58,423.41 468.97,422.99 469.36,422.08 469.74,423.12 470.13,422.16 470.52,423.68 470.90,423.10 471.29,422.13 471.68,421.37 472.06,423.44 472.45,421.31 472.83,422.34 473.22,420.78 473.61,422.77 473.99,422.93 474.38,422.28 474.77,423.37 475.15,422.43 475.54,422.58 475.93,421.49 476.31,422.26 476.70,423.49 477.09,423.53 477.47,423.26 477.86,424.11 478.25,424.18 478.63,420.86 479.02,423.15 479.41,421.49 479.79,423.07 480.18,422.80 480.57,423.81 480.95,421.49 481.34,422.78 481.73,421.16 482.11,423.01 482.50,421.45 482.88,421.29 483.27,423.62 483.66,422.08 484.04,423.24 484.43,423.34 484.82,422.33 485.20,421.78 485.59,421.35 485.98,422.67 486.36,421.62 486.75,421.95 487.14,422.40 487.52,423.12 487.91,422.34 488.30,419.60 488.68,423.10 489.07,422.49 489.46,423.05 489.84,421.25 490.23,420.91 490.62,421.27 491.00,420.75 491.39,422.37 491.78,420.98 492.16,422.94 492.55,421.05 492.93,421.10 493.32,422.76 493.71,421.51 494.09,423.11 494.48,423.35 494.87,423.34 495.25,423.10 495.64,423.12 496.03,422.30 496.41,420.82 496.80,422.40 497.19,422.87 497.57,421.64 497.96,422.37 498.35,422.10 498.73,421.85 499.12,421.81 499.51,422.69 499.89,422.34 500.28,421.39 500.67,422.43 501.05,422.32 501.44,421.87 501.83,421.78 502.21,422.36 502.60,421.65 502.98,422.10 503.37,423.14 503.76,421.57 504.14,422.78 504.53,419.63 504.92,421.85 505.30,422.30 505.69,421.39 506.08,420.90 506.46,420.86 506.85,421.82 507.24,421.21 507.62,421.50 508.01,421.99 508.40,423.27 508.78,422.04 509.17,424.11 509.56,422.77 509.94,420.97 510.33,421.92 510.72,422.10 511.10,422.77 511.49,422.76 511.88,422.62 512.26,423.19 512.65,423.90 513.03,421.26 513.42,420.77 513.81,422.61 514.19,421.49 514.58,423.09 514.97,421.83 515.35,423.23 515.74,421.40 516.13,422.09 516.51,423.16 516.90,421.71 517.29,420.83 517.67,422.16 518.06,422.20 518.45,422.17 518.83,422.08 519.22,421.19 519.61,421.17 519.99,423.89 520.38,421.25 520.77,422.38 521.15,420.90 521.54,421.87 521.93,421.48 522.31,422.67 522.70,423.33 523.08,422.08 523.47,421.51 523.86,421.70 524.24,421.67 524.63,422.12 525.02,421.73 525.40,422.98 525.79,422.44 526.18,423.58 526.56,422.38 526.95,422.60 527.34,422.31 527.72,421.53 528.11,422.32 528.50,424.70 528.88,421.28 529.27,422.27 529.66,421.77 530.04,423.03 530.43,421.74 530.82,421.18 531.20,423.71 531.59,421.44 531.98,423.18 532.36,423.05 532.75,422.44 533.13,420.77 533.52,423.90 533.91,422.96 534.29,422.42 534.68,421.94 535.07,422.56 535.45,422.12 535.84,423.30 536.23,421.86 536.61,421.63 537.00,423.37 537.39,423.12 537.77,422.17 538.16,422.22 538.55,422.07 538.93,423.48 539.32,422.81 539.71,422.89 540.09,421.41 540.48,422.58 540.87,422.91 541.25,423.24 541.64,422.51 542.03,421.55 542.41,423.76 542.80,422.42 543.18,422.10 543.57,420.91 543.96,421.97 544.34,421.43 544.73,422.48 545.12,423.64 545.50,423.67 545.89,423.10 546.28,422.41 546.66,422.75 547.05,422.90 547.44,421.06 547.82,424.46 548.21,423.37 548.60,420.59 548.98,422.28 549.37,423.07 549.76,423.43 550.14,421.88 550.53,421.96 550.92,421.87 551.30,423.57 551.69,422.42 552.08,422.71 552.46,422.17 552.85,423.83 553.23,422.05 553.62,421.29 554.01,423.63 554.39,421.82 554.78,421.17 555.17,421.81 555.55,422.56 555.94,422.42 556.33,422.95 556.71,422.34 557.10,423.36 557.49,422.48 557.87,423.20 558.26,423.69 558.65,421.31 559.03,424.02 559.42,421.07 559.81,424.28 560.19,421.76 560.58,422.36 560.97,423.83 561.35,422.93 561.74,423.34 562.13,423.29 562.51,421.80 562.90,423.47 563.28,424.07 563.67,421.61 564.06,422.20 564.44,422.51 564.83,422.74 565.22,421.95 565.60,422.21 565.99,422.60 566.38,422.99 566.76,421.64 567.15,421.33 567.54,422.13 567.92,420.08 568.31,422.32 568.70,422.36 569.08,421.27 569.47,422.27 569.86,422.29 570.24,422.80 570.63,422.12 571.02,423.87 571.40,423.10 571.79,423.38 572.18,424.28 572.56,421.62 572.95,422.77 573.33,423.22 573.72,422.20 574.11,423.51 574.49,421.77 574.88,421.36 575.27,423.66 575.65,421.54 576.04,422.34 576.43,421.58 576.81,422.34 577.20,423.19 577.59,423.80 577.97,423.40 578.36,422.91 578.75,421.64 579.13,421.98" stroke="#2c3c9c" stroke-width="1.15" fill="none" stroke-linejoin="round"/>
<polygon points="511.78,424.40 512.38,337.00 512.80,335.50 513.22,337.00 513.82,424.40" fill="#2c3c9c"/>
<polyline points="409.80,442.91 410.19,442.96 410.57,442.77 410.96,442.59 411.34,442.84 411.73,442.74 412.12,442.67 412.50,442.63 412.89,443.03 413.27,442.69 413.66,442.81 414.05,442.96 414.43,442.98 414.82,442.86 415.20,443.06 415.59,443.17 415.98,442.79 416.36,442.62 416.75,442.87 417.13,442.62 417.52,442.91 417.91,443.06 418.29,443.19 418.68,443.02 419.06,442.45 419.45,442.87 419.84,443.27 420.22,442.81 420.61,442.91 420.99,442.93 421.38,442.98 421.77,443.03 422.15,442.91 422.54,443.27 422.92,443.10 423.31,442.90 423.70,442.63 424.08,442.70 424.47,442.36 424.85,442.52 425.24,443.29 425.63,442.69 426.01,442.58 426.40,442.77 426.78,443.29 427.17,442.91 427.56,443.03 427.94,442.73 428.33,442.54 428.71,442.66 429.10,443.08 429.49,442.63 429.87,442.82 430.26,442.58 430.64,442.90 431.03,442.78 431.42,442.85 431.80,442.89 432.19,442.46 432.57,442.61 432.96,442.73 433.35,443.18 433.73,443.01 434.12,442.83 434.50,442.69 434.89,443.27 435.28,442.63 435.66,443.12 436.05,443.15 436.43,442.58 436.82,443.00 437.21,442.76 437.59,442.60 437.98,442.70 438.36,443.13 438.75,443.00 439.14,443.01 439.52,442.76 439.91,442.77 440.29,442.58 440.68,442.73 441.07,442.62 441.45,442.90 441.84,442.94 442.22,443.24 442.61,443.02 443.00,443.28 443.38,443.06 443.77,442.48 444.15,442.79 444.54,442.84 444.93,442.88 445.31,442.97 445.70,442.87 446.08,442.59 446.47,443.11 446.86,443.01 447.24,443.08 447.63,442.93 448.01,442.18 448.40,442.37 448.79,442.34 449.17,443.16 449.56,443.19 449.94,442.60 450.33,443.06 450.72,442.75 451.10,443.17 451.49,442.54 451.87,442.85 452.26,442.92 452.65,442.11 453.03,442.77 453.42,443.08 453.80,443.05 454.19,442.50 454.58,443.05 454.96,442.42 455.35,443.12 455.73,442.77 456.12,443.12 456.51,442.56 456.89,442.52 457.28,442.70 457.66,442.89 458.05,442.98 458.44,442.87 458.82,443.14 459.21,443.01 459.59,442.48 459.98,442.93 460.37,442.80 460.75,442.44 461.14,442.69 461.52,442.77 461.91,442.50 462.30,442.64 462.68,442.66 463.07,442.70 463.45,442.38 463.84,442.31 464.23,443.33 464.61,442.23 465.00,442.52 465.38,442.79 465.77,442.48 466.16,443.07 466.54,442.62 466.93,442.39 467.31,442.76 467.70,443.27 468.09,442.64 468.47,442.72 468.86,442.29 469.24,442.41 469.63,442.13 470.02,442.60 470.40,442.44 470.79,442.45 471.17,442.76 471.56,442.52 471.95,441.94 472.33,442.73 472.72,442.44 473.10,442.60 473.49,442.36 473.88,442.77 474.26,442.20 474.65,442.58 475.03,442.61 475.42,442.68 475.81,442.44 476.19,442.77 476.58,442.32 476.96,442.69 477.35,442.57 477.74,442.21 478.12,442.15 478.51,442.46 478.89,442.65 479.28,442.50 479.67,442.31 480.05,442.47 480.44,442.37 480.82,442.20 481.21,442.96 481.59,442.48 481.98,442.47 482.37,442.63 482.75,442.37 483.14,442.70 483.52,442.60 483.91,442.59 484.30,442.03 484.68,442.78 485.07,442.53 485.45,442.25 485.84,442.35 486.23,442.82 486.61,442.49 487.00,442.97 487.38,442.32 487.77,442.36 488.16,442.66 488.54,442.79 488.93,442.51 489.31,442.72 489.70,442.79 490.09,442.51 490.47,442.28 490.86,442.67 491.24,442.79 491.63,442.78 492.02,442.26 492.40,442.82 492.79,442.84 493.17,442.42 493.56,442.54 493.95,442.31 494.33,442.52 494.72,442.79 495.10,442.31 495.49,442.95 495.88,442.48 496.26,442.71 496.65,442.35 497.03,442.70 497.42,442.55 497.81,442.72 498.19,442.61 498.58,442.55 498.96,442.79 499.35,442.74 499.74,442.32 500.12,442.71 500.51,442.11 500.89,442.71 501.28,443.09 501.67,443.19 502.05,442.38 502.44,442.85 502.82,443.01 503.21,442.33 503.60,442.82 503.98,442.89 504.37,442.58 504.75,442.78 505.14,442.70 505.53,442.76 505.91,442.99 506.30,443.06 506.68,442.60 507.07,442.72 507.46,442.87 507.84,443.52 508.23,443.01 508.61,442.87 509.00,442.53 509.39,442.73 509.77,442.40 510.16,443.38 510.54,443.05 510.93,442.82 511.32,443.21 511.70,442.87 512.09,442.78 512.47,442.76 512.86,442.65 513.25,443.32 513.63,443.20 514.02,442.95 514.40,442.86 514.79,443.16 515.18,443.08 515.56,443.02 515.95,442.73 516.33,442.82 516.72,442.68 517.11,442.83 517.49,442.24 517.88,443.00 518.26,442.91 518.65,442.89 519.04,442.56 519.42,442.31 519.81,442.86 520.19,442.86 520.58,442.61 520.97,443.06 521.35,443.02 521.74,443.65 522.12,442.85 522.51,443.11 522.90,442.72 523.28,442.94 523.67,443.24 524.05,442.98 524.44,442.99 524.83,443.01 525.21,442.99 525.60,442.90 525.98,442.92 526.37,442.98 526.76,442.85 527.14,442.96 527.53,442.92 527.91,442.95 528.30,443.10 528.69,443.16 529.07,442.98 529.46,443.10 529.84,442.67 530.23,442.86 530.62,443.31 531.00,442.81 531.39,443.02 531.77,442.85 532.16,443.10 532.55,442.93 532.93,442.90 533.32,443.28 533.70,442.80 534.09,443.12 534.48,443.22 534.86,443.04 535.25,442.91 535.63,443.36 536.02,442.56 536.41,442.77 536.79,443.14 537.18,442.96 537.56,442.58 537.95,443.09 538.34,443.03 538.72,442.60 539.11,442.72 539.49,443.25 539.88,442.83 540.27,442.75 540.65,442.93 541.04,442.77 541.42,443.19 541.81,442.46 542.20,443.09 542.58,443.23 542.97,442.97 543.35,443.42 543.74,443.21 544.13,443.30 544.51,442.80 544.90,442.56 545.28,442.87 545.67,442.75 546.06,443.18 546.44,442.83 546.83,443.02 547.21,442.38 547.60,442.66 547.99,443.12 548.37,443.00 548.76,443.48 549.14,442.75 549.53,442.51 549.92,442.92 550.30,442.78 550.69,443.14 551.07,442.84 551.46,443.08 551.85,442.77 552.23,443.25 552.62,443.08 553.00,443.17 553.39,442.81 553.78,443.61 554.16,442.50 554.55,442.45 554.93,443.09 555.32,443.42 555.71,442.47 556.09,442.91 556.48,443.07 556.86,443.04 557.25,443.01 557.64,442.64 558.02,443.01 558.41,442.98 558.79,442.88" stroke="#222222" stroke-width="1.1" fill="none" stroke-linejoin="round"/>
<polygon points="489.38,442.78 489.98,396.90 490.40,395.40 490.82,396.90 491.42,442.78" fill="#222222"/>
</g>
<rect x="225.50" y="357.50" width="69.00" height="136.00" fill="#fff" stroke="#5aa05a" stroke-width="1.0"/>
<text x="292.80" y="367.20" font-size="8.4" text-anchor="end" fill="#222" stroke="#222" stroke-width="0.12">(d<tspan font-size="6.2" dy="1.8">1</tspan><tspan dy="-1.8">)</tspan></text>
<rect x="231.40" y="366.50" width="14.90" height="56.90" fill="#e86468"/>
<text x="0" y="0" font-size="7.9" text-anchor="middle" fill="#fff" transform="translate(241.45 394.95) rotate(-90)">laser emission</text>
<polyline points="231.40,423.40 231.40,366.50 246.30,366.50 246.30,423.40 273.90,423.40" stroke="#111" stroke-width="1.1" fill="none"/>
<text x="229.90" y="436.80" font-size="8.0" text-anchor="start" fill="#222" stroke="#222" stroke-width="0.12">Optical pulse</text>
<rect x="231.40" y="454.80" width="14.90" height="23.90" fill="#9aaad8"/>
<polyline points="231.40,478.70 231.40,454.80 246.30,454.80 246.30,478.70 273.30,478.70" stroke="#2c3c98" stroke-width="1.1" fill="none"/>
<text x="249.00" y="471.40" font-size="8.0" text-anchor="start" fill="#222" stroke="#222" stroke-width="0.12">0.4 µs</text>
<text x="229.90" y="488.30" font-size="8.0" text-anchor="start" fill="#222" stroke="#222" stroke-width="0.12">pump pulse</text>
<rect x="307.50" y="270.50" width="82.00" height="133.00" fill="#fff" stroke="#e6c874" stroke-width="1.0"/>
<text x="387.80" y="280.40" font-size="8.4" text-anchor="end" fill="#222" stroke="#222" stroke-width="0.12">(d<tspan font-size="6.2" dy="1.8">2</tspan><tspan dy="-1.8">)</tspan></text>
<defs><linearGradient id="g2" gradientUnits="userSpaceOnUse" x1="312.60" x2="340.60" y1="0" y2="0"><stop offset="0" stop-color="#d8141e"/><stop offset="0.196" stop-color="#d01c26"/><stop offset="0.571" stop-color="#707070"/><stop offset="1" stop-color="#6a6a6a"/></linearGradient></defs>
<rect x="312.60" y="278.50" width="28.00" height="58.70" fill="url(#g2)"/>
<text x="0" y="0" font-size="7.2" text-anchor="middle" fill="#fff" transform="translate(319.80 307.85) rotate(-90)">laser emission</text>
<text x="0" y="0" font-size="7.2" text-anchor="middle" fill="#fff" transform="translate(325.20 307.85) rotate(-90)">+</text>
<text x="0" y="0" font-size="7.2" text-anchor="middle" fill="#fff" transform="translate(331.60 307.85) rotate(-90)">spontanious</text>
<text x="0" y="0" font-size="7.2" text-anchor="middle" fill="#fff" transform="translate(339.80 307.85) rotate(-90)">emission</text>
<polyline points="312.60,337.20 312.60,278.50 340.60,278.50 340.60,337.20 364.30,337.20" stroke="#111" stroke-width="1.1" fill="none"/>
<text x="312.30" y="348.80" font-size="8.0" text-anchor="start" fill="#222" stroke="#222" stroke-width="0.12">Optical pulse</text>
<rect x="312.60" y="364.70" width="26.40" height="23.90" fill="#9aaad8"/>
<polyline points="312.60,388.60 312.60,364.70 339.00,364.70 339.00,388.60 363.60,388.60" stroke="#2c3c98" stroke-width="1.1" fill="none"/>
<text x="344.00" y="381.30" font-size="8.0" text-anchor="start" fill="#222" stroke="#222" stroke-width="0.12">1 µs</text>
<text x="312.30" y="399.50" font-size="8.0" text-anchor="start" fill="#222" stroke="#222" stroke-width="0.12">pump pulse</text>
<rect x="405.50" y="202.50" width="85.00" height="132.00" fill="#fff" stroke="#e0404a" stroke-width="1.0"/>
<text x="488.50" y="212.70" font-size="8.4" text-anchor="end" fill="#222" stroke="#222" stroke-width="0.12">(d<tspan font-size="6.2" dy="1.8">3</tspan><tspan dy="-1.8">)</tspan></text>
<defs><linearGradient id="g3" gradientUnits="userSpaceOnUse" x1="411.30" x2="453.90" y1="0" y2="0"><stop offset="0" stop-color="#d8141e"/><stop offset="0.129" stop-color="#d01c26"/><stop offset="0.376" stop-color="#707070"/><stop offset="1" stop-color="#6a6a6a"/></linearGradient></defs>
<rect x="411.30" y="211.60" width="42.60" height="56.70" fill="url(#g3)"/>
<text x="0" y="0" font-size="7.6" text-anchor="middle" fill="#fff" transform="translate(420.10 239.95) rotate(-90)">laser emission</text>
<text x="0" y="0" font-size="7.6" text-anchor="middle" fill="#fff" transform="translate(426.50 239.95) rotate(-90)">+</text>
<text x="0" y="0" font-size="7.6" text-anchor="middle" fill="#fff" transform="translate(437.90 239.95) rotate(-90)">spontanious</text>
<text x="0" y="0" font-size="7.6" text-anchor="middle" fill="#fff" transform="translate(446.50 239.95) rotate(-90)">emission</text>
<polyline points="411.30,268.30 411.30,211.60 453.90,211.60 453.90,268.30 475.10,268.30" stroke="#111" stroke-width="1.1" fill="none"/>
<text x="411.30" y="278.80" font-size="8.0" text-anchor="start" fill="#222" stroke="#222" stroke-width="0.12">Optical pulse</text>
<rect x="411.30" y="295.00" width="41.70" height="23.50" fill="#9aaad8"/>
<polyline points="411.30,318.50 411.30,295.00 453.00,295.00 453.00,318.50 473.70,318.50" stroke="#2c3c98" stroke-width="1.1" fill="none"/>
<text x="455.90" y="310.80" font-size="8.0" text-anchor="start" fill="#222" stroke="#222" stroke-width="0.12">2 µs</text>
<text x="411.30" y="327.00" font-size="8.0" text-anchor="start" fill="#222" stroke="#222" stroke-width="0.12">pump pulse</text>
<line x1="295.40" y1="428.60" x2="456.27" y2="403.98" stroke="#3a9a40" stroke-width="1.15" stroke-dasharray="5.6 2.7"/>
<polygon points="462.70,403.00 455.88,401.41 456.67,406.55" fill="#3a9a40"/>
<line x1="390.00" y1="344.60" x2="504.59" y2="363.45" stroke="#e2b432" stroke-width="1.15" stroke-dasharray="5.6 2.7"/>
<polygon points="511.00,364.50 505.01,360.88 504.16,366.01" fill="#e2b432"/>
<line x1="493.50" y1="325.80" x2="526.38" y2="342.20" stroke="#e2202c" stroke-width="1.15" stroke-dasharray="5.6 2.7"/>
<polygon points="532.20,345.10 527.54,339.87 525.22,344.53" fill="#e2202c"/>
</svg>
</body></html>
